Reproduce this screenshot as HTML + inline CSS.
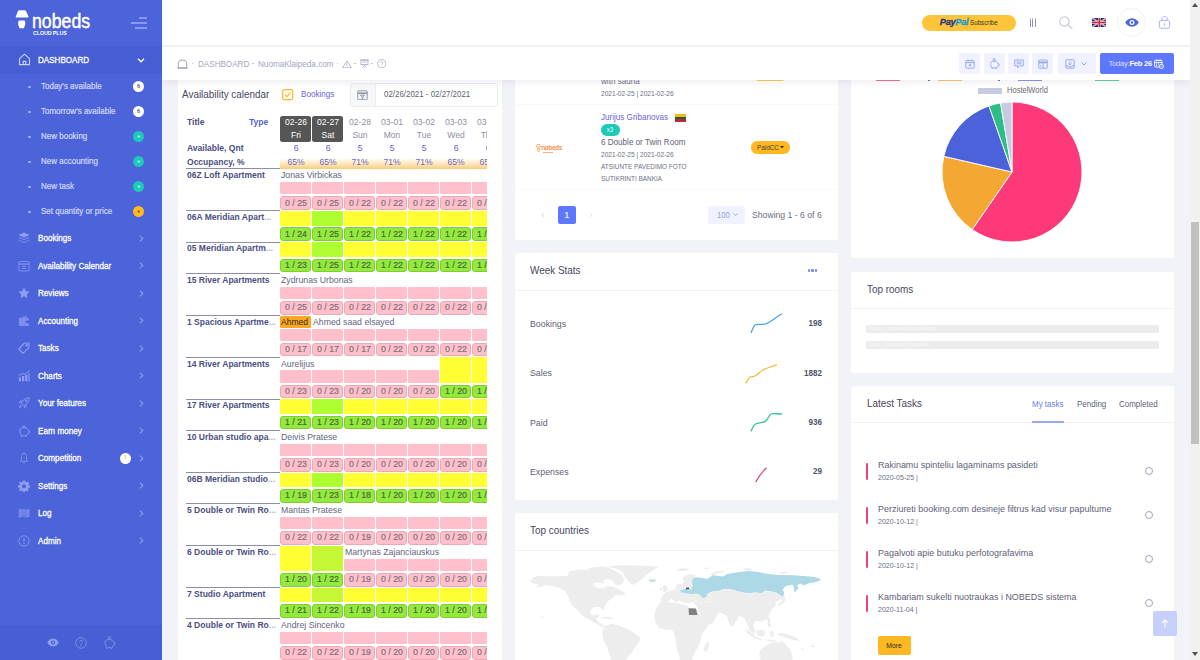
<!DOCTYPE html><html><head><meta charset="utf-8"><title>nobeds</title><style>
*{box-sizing:border-box;margin:0;padding:0}
html,body{width:1200px;height:660px;overflow:hidden;background:#f2f3f8;font-family:"Liberation Sans",sans-serif;}
body{position:relative}
.a{position:absolute}
.t{position:absolute;white-space:nowrap;line-height:1;}
.card{position:absolute;background:#fff;border-radius:3px;}
.hl{position:absolute;height:1px;background:#f2f3f8}
#side{position:absolute;left:0;top:0;width:162px;height:660px;background:#4c63d9;overflow:hidden}
#side .m{position:absolute;left:37px;color:#fff;font-size:9.3px;line-height:1;white-space:nowrap;letter-spacing:-0.3px;-webkit-text-stroke:0.25px #fff}
#side .s{position:absolute;left:41px;color:#c3cbf7;font-size:8.6px;line-height:1;white-space:nowrap;letter-spacing:-0.25px}
#side .dot{position:absolute;left:28.2px;width:2.4px;height:2.4px;border-radius:50%;background:#a3b0f2}
#side .arr{position:absolute;left:138px;width:6px;height:8px}
#side .bd{position:absolute;left:133px;width:11px;height:11px;border-radius:50%;}
#top{position:absolute;left:162px;top:0;width:1028px;height:46px;background:#fff;border-bottom:1px solid #f6f7fb}
#sub{position:absolute;left:162px;top:47px;width:1028px;height:33px;background:#fff;box-shadow:0 2px 7px rgba(82,63,105,.10)}
.btn{position:absolute;top:53px;height:21px;background:#f0f3ff;border-radius:2px}
#sb{position:absolute;left:1190px;top:0;width:10px;height:660px;background:#f1f1f1}
</style></head><body>
<div class="card" style="left:178px;top:70px;width:324px;height:600px"></div>
<div class="card" style="left:515px;top:70px;width:323px;height:170px"></div>
<div class="card" style="left:515px;top:253px;width:323px;height:247px"></div>
<div class="card" style="left:515px;top:513px;width:323px;height:160px"></div>
<div class="card" style="left:851px;top:70px;width:323px;height:188px"></div>
<div class="card" style="left:851px;top:272px;width:323px;height:101px"></div>
<div class="card" style="left:851px;top:386px;width:323px;height:290px"></div>
<span class="t" style="left:182px;top:88.66px;font-size:11.2px;color:#48465b;font-weight:normal;transform:scaleX(0.885);transform-origin:0 50%;">Availability calendar</span>
<svg class="a" style="left:282.4px;top:89.2px" width="11.4" height="11.4" viewBox="0 0 11.4 11.4" fill="none" stroke="#ffb822"><rect x="0.7" y="0.7" width="10" height="10" rx="1.6" stroke-width="1.2"/><path d="M2.9 5.8 L4.9 7.7 L8.5 3.7" stroke-width="1.2"/></svg>
<span class="t" style="left:301.4px;top:89.67px;font-size:9.3px;color:#6c63d8;font-weight:normal;transform:scaleX(0.87);transform-origin:0 50%;">Bookings</span>
<div class="a" style="left:349.5px;top:83px;width:148px;height:24px;border:1px solid #ebedf3;border-radius:3px;background:#fff"></div>
<div class="a" style="left:349.5px;top:83px;width:26.5px;height:24px;border:1px solid #ebedf3;border-radius:3px 0 0 3px;background:#f7f8fa"></div>
<svg class="a" style="left:357px;top:89.5px" width="11" height="10.5" viewBox="0 0 11 10.5" fill="none" stroke="#8b8da0" stroke-width=".9"><rect x="0.8" y="0.8" width="9.4" height="8.9" rx=".6"/><path d="M0.8 3.2 H10.2" stroke-width="1.5"/><path d="M3.4 5.2 H7.6 L5.8 7 V8.6 H5.2 V7 Z"/></svg>
<span class="t" style="left:384px;top:89.88px;font-size:9.1px;color:#5d5f6e;font-weight:normal;transform:scaleX(0.87);transform-origin:0 50%;">02/26/2021 - 02/27/2021</span>
<div class="a" style="left:180px;top:110px;width:307px;height:550px;overflow:hidden"><div class="a" style="left:-180px;top:-110px;width:700px;height:700px">
<span class="t" style="left:186.7px;top:116.81px;font-size:9.8px;color:#4b4f82;font-weight:bold;transform:scaleX(0.87);transform-origin:0 50%;">Title</span>
<span class="t" style="left:249.3px;top:116.81px;font-size:9.8px;color:#5b60d4;font-weight:bold;transform:scaleX(0.87);transform-origin:0 50%;">Type</span>
<div class="a" style="left:280px;top:158px;width:230px;height:10.6px;background:linear-gradient(to bottom,rgba(255,255,255,0) 0%,#fde6b8 55%,#f9cc7d 100%)"></div>
<div class="a" style="left:280px;top:115.6px;width:31px;height:26.6px;border-radius:2.5px;background:#565656"></div>
<span class="t" style="left:295.5px;top:117.01px;font-size:9.8px;color:#fff;font-weight:normal;transform:translateX(-50%) scaleX(0.87);">02-26</span>
<span class="t" style="left:295.5px;top:130.01px;font-size:9.8px;color:#fff;font-weight:normal;transform:translateX(-50%) scaleX(0.87);">Fri</span>
<span class="t" style="left:295.5px;top:143.21px;font-size:9.8px;color:#5b60d4;font-weight:normal;transform:translateX(-50%) scaleX(0.87);">6</span>
<span class="t" style="left:295.5px;top:156.61px;font-size:9.8px;color:#6a66c8;font-weight:normal;transform:translateX(-50%) scaleX(0.87);">65%</span>
<div class="a" style="left:312px;top:115.6px;width:31px;height:26.6px;border-radius:2.5px;background:#565656"></div>
<span class="t" style="left:327.5px;top:117.01px;font-size:9.8px;color:#fff;font-weight:normal;transform:translateX(-50%) scaleX(0.87);">02-27</span>
<span class="t" style="left:327.5px;top:130.01px;font-size:9.8px;color:#fff;font-weight:normal;transform:translateX(-50%) scaleX(0.87);">Sat</span>
<span class="t" style="left:327.5px;top:143.21px;font-size:9.8px;color:#5b60d4;font-weight:normal;transform:translateX(-50%) scaleX(0.87);">6</span>
<span class="t" style="left:327.5px;top:156.61px;font-size:9.8px;color:#6a66c8;font-weight:normal;transform:translateX(-50%) scaleX(0.87);">65%</span>
<span class="t" style="left:359.5px;top:117.01px;font-size:9.8px;color:#8d8fa3;font-weight:normal;transform:translateX(-50%) scaleX(0.87);">02-28</span>
<span class="t" style="left:359.5px;top:130.01px;font-size:9.8px;color:#8d8fa3;font-weight:normal;transform:translateX(-50%) scaleX(0.87);">Sun</span>
<span class="t" style="left:359.5px;top:143.21px;font-size:9.8px;color:#5b60d4;font-weight:normal;transform:translateX(-50%) scaleX(0.87);">5</span>
<span class="t" style="left:359.5px;top:156.61px;font-size:9.8px;color:#6a66c8;font-weight:normal;transform:translateX(-50%) scaleX(0.87);">71%</span>
<span class="t" style="left:391.5px;top:117.01px;font-size:9.8px;color:#8d8fa3;font-weight:normal;transform:translateX(-50%) scaleX(0.87);">03-01</span>
<span class="t" style="left:391.5px;top:130.01px;font-size:9.8px;color:#8d8fa3;font-weight:normal;transform:translateX(-50%) scaleX(0.87);">Mon</span>
<span class="t" style="left:391.5px;top:143.21px;font-size:9.8px;color:#5b60d4;font-weight:normal;transform:translateX(-50%) scaleX(0.87);">5</span>
<span class="t" style="left:391.5px;top:156.61px;font-size:9.8px;color:#6a66c8;font-weight:normal;transform:translateX(-50%) scaleX(0.87);">71%</span>
<span class="t" style="left:423.5px;top:117.01px;font-size:9.8px;color:#8d8fa3;font-weight:normal;transform:translateX(-50%) scaleX(0.87);">03-02</span>
<span class="t" style="left:423.5px;top:130.01px;font-size:9.8px;color:#8d8fa3;font-weight:normal;transform:translateX(-50%) scaleX(0.87);">Tue</span>
<span class="t" style="left:423.5px;top:143.21px;font-size:9.8px;color:#5b60d4;font-weight:normal;transform:translateX(-50%) scaleX(0.87);">5</span>
<span class="t" style="left:423.5px;top:156.61px;font-size:9.8px;color:#6a66c8;font-weight:normal;transform:translateX(-50%) scaleX(0.87);">71%</span>
<span class="t" style="left:455.5px;top:117.01px;font-size:9.8px;color:#8d8fa3;font-weight:normal;transform:translateX(-50%) scaleX(0.87);">03-03</span>
<span class="t" style="left:455.5px;top:130.01px;font-size:9.8px;color:#8d8fa3;font-weight:normal;transform:translateX(-50%) scaleX(0.87);">Wed</span>
<span class="t" style="left:455.5px;top:143.21px;font-size:9.8px;color:#5b60d4;font-weight:normal;transform:translateX(-50%) scaleX(0.87);">6</span>
<span class="t" style="left:455.5px;top:156.61px;font-size:9.8px;color:#6a66c8;font-weight:normal;transform:translateX(-50%) scaleX(0.87);">65%</span>
<span class="t" style="left:487.5px;top:117.01px;font-size:9.8px;color:#8d8fa3;font-weight:normal;transform:translateX(-50%) scaleX(0.87);">03-04</span>
<span class="t" style="left:487.5px;top:130.01px;font-size:9.8px;color:#8d8fa3;font-weight:normal;transform:translateX(-50%) scaleX(0.87);">Thu</span>
<span class="t" style="left:487.5px;top:143.21px;font-size:9.8px;color:#5b60d4;font-weight:normal;transform:translateX(-50%) scaleX(0.87);">6</span>
<span class="t" style="left:487.5px;top:156.61px;font-size:9.8px;color:#6a66c8;font-weight:normal;transform:translateX(-50%) scaleX(0.87);">65%</span>
<span class="t" style="left:186.7px;top:143.21px;font-size:9.8px;color:#4b4f82;font-weight:bold;transform:scaleX(0.87);transform-origin:0 50%;">Available, Qnt</span>
<span class="t" style="left:186.7px;top:156.61px;font-size:9.8px;color:#4b4f82;font-weight:bold;transform:scaleX(0.87);transform-origin:0 50%;">Occupancy, %</span>
<div class="a" style="left:186px;top:168.3px;width:94px;height:1px;background:#8b8eb0"></div>
<span class="t" style="left:186.7px;top:170.21px;font-size:9.8px;color:#4b4f82;font-weight:bold;transform:scaleX(0.87);transform-origin:0 50%;">06Z Loft Apartment</span>
<div class="a" style="left:280px;top:182.1px;width:31.2px;height:12.4px;border-radius:1px;background:#ffc0cb"></div>
<div class="a" style="left:280.3px;top:196.2px;width:30.6px;height:13.9px;border-radius:3px;background:#ffc0cb;border:1px solid #eaaab5"></div><span class="t" style="left:295.6px;top:198.67px;font-size:9.3px;color:#80707c;font-weight:normal;transform:translateX(-50%) scaleX(0.94);-webkit-text-stroke:0.2px #80707c;">0 / 25</span>
<div class="a" style="left:312px;top:182.1px;width:31.2px;height:12.4px;border-radius:1px;background:#ffc0cb"></div>
<div class="a" style="left:312.3px;top:196.2px;width:30.6px;height:13.9px;border-radius:3px;background:#ffc0cb;border:1px solid #eaaab5"></div><span class="t" style="left:327.6px;top:198.67px;font-size:9.3px;color:#80707c;font-weight:normal;transform:translateX(-50%) scaleX(0.94);-webkit-text-stroke:0.2px #80707c;">0 / 25</span>
<div class="a" style="left:344px;top:182.1px;width:31.2px;height:12.4px;border-radius:1px;background:#ffc0cb"></div>
<div class="a" style="left:344.3px;top:196.2px;width:30.6px;height:13.9px;border-radius:3px;background:#ffc0cb;border:1px solid #eaaab5"></div><span class="t" style="left:359.6px;top:198.67px;font-size:9.3px;color:#80707c;font-weight:normal;transform:translateX(-50%) scaleX(0.94);-webkit-text-stroke:0.2px #80707c;">0 / 22</span>
<div class="a" style="left:376px;top:182.1px;width:31.2px;height:12.4px;border-radius:1px;background:#ffc0cb"></div>
<div class="a" style="left:376.3px;top:196.2px;width:30.6px;height:13.9px;border-radius:3px;background:#ffc0cb;border:1px solid #eaaab5"></div><span class="t" style="left:391.6px;top:198.67px;font-size:9.3px;color:#80707c;font-weight:normal;transform:translateX(-50%) scaleX(0.94);-webkit-text-stroke:0.2px #80707c;">0 / 22</span>
<div class="a" style="left:408px;top:182.1px;width:31.2px;height:12.4px;border-radius:1px;background:#ffc0cb"></div>
<div class="a" style="left:408.3px;top:196.2px;width:30.6px;height:13.9px;border-radius:3px;background:#ffc0cb;border:1px solid #eaaab5"></div><span class="t" style="left:423.6px;top:198.67px;font-size:9.3px;color:#80707c;font-weight:normal;transform:translateX(-50%) scaleX(0.94);-webkit-text-stroke:0.2px #80707c;">0 / 22</span>
<div class="a" style="left:440px;top:182.1px;width:31.2px;height:12.4px;border-radius:1px;background:#ffc0cb"></div>
<div class="a" style="left:440.3px;top:196.2px;width:30.6px;height:13.9px;border-radius:3px;background:#ffc0cb;border:1px solid #eaaab5"></div><span class="t" style="left:455.6px;top:198.67px;font-size:9.3px;color:#80707c;font-weight:normal;transform:translateX(-50%) scaleX(0.94);-webkit-text-stroke:0.2px #80707c;">0 / 22</span>
<div class="a" style="left:472px;top:182.1px;width:31.2px;height:12.4px;border-radius:1px;background:#ffc0cb"></div>
<div class="a" style="left:472.3px;top:196.2px;width:30.6px;height:13.9px;border-radius:3px;background:#ffc0cb;border:1px solid #eaaab5"></div><span class="t" style="left:487.6px;top:198.67px;font-size:9.3px;color:#80707c;font-weight:normal;transform:translateX(-50%) scaleX(0.94);-webkit-text-stroke:0.2px #80707c;">0 / 22</span>
<span class="t" style="left:280.8px;top:170.31px;font-size:9.8px;color:#62657f;font-weight:normal;transform:scaleX(0.89);transform-origin:0 50%;">Jonas Virbickas</span>
<div class="a" style="left:186px;top:210.2px;width:94px;height:1px;background:#8b8eb0"></div>
<span class="t" style="left:186.7px;top:212.11px;font-size:9.8px;color:#4b4f82;font-weight:bold;transform:scaleX(0.87);transform-origin:0 50%;">06A Meridian Apart<span style="opacity:.45">...</span></span>
<div class="a" style="left:280px;top:211.0px;width:31.2px;height:14.8px;border-radius:1px;background:#ffff33"></div>
<div class="a" style="left:280.3px;top:227.3px;width:30.6px;height:13.9px;border-radius:3px;background:#94ea3c;border:1px solid #7ccf2d"></div><span class="t" style="left:295.6px;top:229.77px;font-size:9.3px;color:#47663a;font-weight:normal;transform:translateX(-50%) scaleX(0.94);-webkit-text-stroke:0.2px #47663a;">1 / 24</span>
<div class="a" style="left:312px;top:211.0px;width:31.2px;height:14.8px;border-radius:1px;background:#adff2f"></div>
<div class="a" style="left:312.3px;top:227.3px;width:30.6px;height:13.9px;border-radius:3px;background:#94ea3c;border:1px solid #7ccf2d"></div><span class="t" style="left:327.6px;top:229.77px;font-size:9.3px;color:#47663a;font-weight:normal;transform:translateX(-50%) scaleX(0.94);-webkit-text-stroke:0.2px #47663a;">1 / 25</span>
<div class="a" style="left:344px;top:211.0px;width:31.2px;height:14.8px;border-radius:1px;background:#ffff33"></div>
<div class="a" style="left:344.3px;top:227.3px;width:30.6px;height:13.9px;border-radius:3px;background:#94ea3c;border:1px solid #7ccf2d"></div><span class="t" style="left:359.6px;top:229.77px;font-size:9.3px;color:#47663a;font-weight:normal;transform:translateX(-50%) scaleX(0.94);-webkit-text-stroke:0.2px #47663a;">1 / 22</span>
<div class="a" style="left:376px;top:211.0px;width:31.2px;height:14.8px;border-radius:1px;background:#ffff33"></div>
<div class="a" style="left:376.3px;top:227.3px;width:30.6px;height:13.9px;border-radius:3px;background:#94ea3c;border:1px solid #7ccf2d"></div><span class="t" style="left:391.6px;top:229.77px;font-size:9.3px;color:#47663a;font-weight:normal;transform:translateX(-50%) scaleX(0.94);-webkit-text-stroke:0.2px #47663a;">1 / 22</span>
<div class="a" style="left:408px;top:211.0px;width:31.2px;height:14.8px;border-radius:1px;background:#ffff33"></div>
<div class="a" style="left:408.3px;top:227.3px;width:30.6px;height:13.9px;border-radius:3px;background:#94ea3c;border:1px solid #7ccf2d"></div><span class="t" style="left:423.6px;top:229.77px;font-size:9.3px;color:#47663a;font-weight:normal;transform:translateX(-50%) scaleX(0.94);-webkit-text-stroke:0.2px #47663a;">1 / 22</span>
<div class="a" style="left:440px;top:211.0px;width:31.2px;height:14.8px;border-radius:1px;background:#ffff33"></div>
<div class="a" style="left:440.3px;top:227.3px;width:30.6px;height:13.9px;border-radius:3px;background:#94ea3c;border:1px solid #7ccf2d"></div><span class="t" style="left:455.6px;top:229.77px;font-size:9.3px;color:#47663a;font-weight:normal;transform:translateX(-50%) scaleX(0.94);-webkit-text-stroke:0.2px #47663a;">1 / 22</span>
<div class="a" style="left:472px;top:211.0px;width:31.2px;height:14.8px;border-radius:1px;background:#ffff33"></div>
<div class="a" style="left:472.3px;top:227.3px;width:30.6px;height:13.9px;border-radius:3px;background:#94ea3c;border:1px solid #7ccf2d"></div><span class="t" style="left:487.6px;top:229.77px;font-size:9.3px;color:#47663a;font-weight:normal;transform:translateX(-50%) scaleX(0.94);-webkit-text-stroke:0.2px #47663a;">1 / 22</span>
<div class="a" style="left:186px;top:241.5px;width:94px;height:1px;background:#8b8eb0"></div>
<span class="t" style="left:186.7px;top:243.41px;font-size:9.8px;color:#4b4f82;font-weight:bold;transform:scaleX(0.87);transform-origin:0 50%;">05 Meridian Apartm<span style="opacity:.45">...</span></span>
<div class="a" style="left:280px;top:242.3px;width:31.2px;height:14.8px;border-radius:1px;background:#ffff33"></div>
<div class="a" style="left:280.3px;top:258.6px;width:30.6px;height:13.9px;border-radius:3px;background:#94ea3c;border:1px solid #7ccf2d"></div><span class="t" style="left:295.6px;top:261.07px;font-size:9.3px;color:#47663a;font-weight:normal;transform:translateX(-50%) scaleX(0.94);-webkit-text-stroke:0.2px #47663a;">1 / 23</span>
<div class="a" style="left:312px;top:242.3px;width:31.2px;height:14.8px;border-radius:1px;background:#adff2f"></div>
<div class="a" style="left:312.3px;top:258.6px;width:30.6px;height:13.9px;border-radius:3px;background:#94ea3c;border:1px solid #7ccf2d"></div><span class="t" style="left:327.6px;top:261.07px;font-size:9.3px;color:#47663a;font-weight:normal;transform:translateX(-50%) scaleX(0.94);-webkit-text-stroke:0.2px #47663a;">1 / 25</span>
<div class="a" style="left:344px;top:242.3px;width:31.2px;height:14.8px;border-radius:1px;background:#ffff33"></div>
<div class="a" style="left:344.3px;top:258.6px;width:30.6px;height:13.9px;border-radius:3px;background:#94ea3c;border:1px solid #7ccf2d"></div><span class="t" style="left:359.6px;top:261.07px;font-size:9.3px;color:#47663a;font-weight:normal;transform:translateX(-50%) scaleX(0.94);-webkit-text-stroke:0.2px #47663a;">1 / 22</span>
<div class="a" style="left:376px;top:242.3px;width:31.2px;height:14.8px;border-radius:1px;background:#ffff33"></div>
<div class="a" style="left:376.3px;top:258.6px;width:30.6px;height:13.9px;border-radius:3px;background:#94ea3c;border:1px solid #7ccf2d"></div><span class="t" style="left:391.6px;top:261.07px;font-size:9.3px;color:#47663a;font-weight:normal;transform:translateX(-50%) scaleX(0.94);-webkit-text-stroke:0.2px #47663a;">1 / 22</span>
<div class="a" style="left:408px;top:242.3px;width:31.2px;height:14.8px;border-radius:1px;background:#ffff33"></div>
<div class="a" style="left:408.3px;top:258.6px;width:30.6px;height:13.9px;border-radius:3px;background:#94ea3c;border:1px solid #7ccf2d"></div><span class="t" style="left:423.6px;top:261.07px;font-size:9.3px;color:#47663a;font-weight:normal;transform:translateX(-50%) scaleX(0.94);-webkit-text-stroke:0.2px #47663a;">1 / 22</span>
<div class="a" style="left:440px;top:242.3px;width:31.2px;height:14.8px;border-radius:1px;background:#ffff33"></div>
<div class="a" style="left:440.3px;top:258.6px;width:30.6px;height:13.9px;border-radius:3px;background:#94ea3c;border:1px solid #7ccf2d"></div><span class="t" style="left:455.6px;top:261.07px;font-size:9.3px;color:#47663a;font-weight:normal;transform:translateX(-50%) scaleX(0.94);-webkit-text-stroke:0.2px #47663a;">1 / 22</span>
<div class="a" style="left:472px;top:242.3px;width:31.2px;height:14.8px;border-radius:1px;background:#ffff33"></div>
<div class="a" style="left:472.3px;top:258.6px;width:30.6px;height:13.9px;border-radius:3px;background:#94ea3c;border:1px solid #7ccf2d"></div><span class="t" style="left:487.6px;top:261.07px;font-size:9.3px;color:#47663a;font-weight:normal;transform:translateX(-50%) scaleX(0.94);-webkit-text-stroke:0.2px #47663a;">1 / 22</span>
<div class="a" style="left:186px;top:272.8px;width:94px;height:1px;background:#8b8eb0"></div>
<span class="t" style="left:186.7px;top:274.71px;font-size:9.8px;color:#4b4f82;font-weight:bold;transform:scaleX(0.87);transform-origin:0 50%;">15 River Apartments</span>
<div class="a" style="left:280px;top:286.6px;width:31.2px;height:12.4px;border-radius:1px;background:#ffc0cb"></div>
<div class="a" style="left:280.3px;top:300.7px;width:30.6px;height:13.9px;border-radius:3px;background:#ffc0cb;border:1px solid #eaaab5"></div><span class="t" style="left:295.6px;top:303.17px;font-size:9.3px;color:#80707c;font-weight:normal;transform:translateX(-50%) scaleX(0.94);-webkit-text-stroke:0.2px #80707c;">0 / 25</span>
<div class="a" style="left:312px;top:286.6px;width:31.2px;height:12.4px;border-radius:1px;background:#ffc0cb"></div>
<div class="a" style="left:312.3px;top:300.7px;width:30.6px;height:13.9px;border-radius:3px;background:#ffc0cb;border:1px solid #eaaab5"></div><span class="t" style="left:327.6px;top:303.17px;font-size:9.3px;color:#80707c;font-weight:normal;transform:translateX(-50%) scaleX(0.94);-webkit-text-stroke:0.2px #80707c;">0 / 25</span>
<div class="a" style="left:344px;top:286.6px;width:31.2px;height:12.4px;border-radius:1px;background:#ffc0cb"></div>
<div class="a" style="left:344.3px;top:300.7px;width:30.6px;height:13.9px;border-radius:3px;background:#ffc0cb;border:1px solid #eaaab5"></div><span class="t" style="left:359.6px;top:303.17px;font-size:9.3px;color:#80707c;font-weight:normal;transform:translateX(-50%) scaleX(0.94);-webkit-text-stroke:0.2px #80707c;">0 / 22</span>
<div class="a" style="left:376px;top:286.6px;width:31.2px;height:12.4px;border-radius:1px;background:#ffc0cb"></div>
<div class="a" style="left:376.3px;top:300.7px;width:30.6px;height:13.9px;border-radius:3px;background:#ffc0cb;border:1px solid #eaaab5"></div><span class="t" style="left:391.6px;top:303.17px;font-size:9.3px;color:#80707c;font-weight:normal;transform:translateX(-50%) scaleX(0.94);-webkit-text-stroke:0.2px #80707c;">0 / 22</span>
<div class="a" style="left:408px;top:286.6px;width:31.2px;height:12.4px;border-radius:1px;background:#ffc0cb"></div>
<div class="a" style="left:408.3px;top:300.7px;width:30.6px;height:13.9px;border-radius:3px;background:#ffc0cb;border:1px solid #eaaab5"></div><span class="t" style="left:423.6px;top:303.17px;font-size:9.3px;color:#80707c;font-weight:normal;transform:translateX(-50%) scaleX(0.94);-webkit-text-stroke:0.2px #80707c;">0 / 22</span>
<div class="a" style="left:440px;top:286.6px;width:31.2px;height:12.4px;border-radius:1px;background:#ffc0cb"></div>
<div class="a" style="left:440.3px;top:300.7px;width:30.6px;height:13.9px;border-radius:3px;background:#ffc0cb;border:1px solid #eaaab5"></div><span class="t" style="left:455.6px;top:303.17px;font-size:9.3px;color:#80707c;font-weight:normal;transform:translateX(-50%) scaleX(0.94);-webkit-text-stroke:0.2px #80707c;">0 / 22</span>
<div class="a" style="left:472px;top:286.6px;width:31.2px;height:12.4px;border-radius:1px;background:#ffc0cb"></div>
<div class="a" style="left:472.3px;top:300.7px;width:30.6px;height:13.9px;border-radius:3px;background:#ffc0cb;border:1px solid #eaaab5"></div><span class="t" style="left:487.6px;top:303.17px;font-size:9.3px;color:#80707c;font-weight:normal;transform:translateX(-50%) scaleX(0.94);-webkit-text-stroke:0.2px #80707c;">0 / 22</span>
<span class="t" style="left:280.8px;top:274.81px;font-size:9.8px;color:#62657f;font-weight:normal;transform:scaleX(0.89);transform-origin:0 50%;">Zydrunas Urbonas</span>
<div class="a" style="left:186px;top:314.7px;width:94px;height:1px;background:#8b8eb0"></div>
<span class="t" style="left:186.7px;top:316.61px;font-size:9.8px;color:#4b4f82;font-weight:bold;transform:scaleX(0.87);transform-origin:0 50%;">1 Spacious Apartme<span style="opacity:.45">...</span></span>
<div class="a" style="left:280px;top:328.5px;width:31.2px;height:12.4px;border-radius:1px;background:#ffc0cb"></div>
<div class="a" style="left:280.3px;top:342.6px;width:30.6px;height:13.9px;border-radius:3px;background:#ffc0cb;border:1px solid #eaaab5"></div><span class="t" style="left:295.6px;top:345.07px;font-size:9.3px;color:#80707c;font-weight:normal;transform:translateX(-50%) scaleX(0.94);-webkit-text-stroke:0.2px #80707c;">0 / 17</span>
<div class="a" style="left:312px;top:328.5px;width:31.2px;height:12.4px;border-radius:1px;background:#ffc0cb"></div>
<div class="a" style="left:312.3px;top:342.6px;width:30.6px;height:13.9px;border-radius:3px;background:#ffc0cb;border:1px solid #eaaab5"></div><span class="t" style="left:327.6px;top:345.07px;font-size:9.3px;color:#80707c;font-weight:normal;transform:translateX(-50%) scaleX(0.94);-webkit-text-stroke:0.2px #80707c;">0 / 17</span>
<div class="a" style="left:344px;top:328.5px;width:31.2px;height:12.4px;border-radius:1px;background:#ffc0cb"></div>
<div class="a" style="left:344.3px;top:342.6px;width:30.6px;height:13.9px;border-radius:3px;background:#ffc0cb;border:1px solid #eaaab5"></div><span class="t" style="left:359.6px;top:345.07px;font-size:9.3px;color:#80707c;font-weight:normal;transform:translateX(-50%) scaleX(0.94);-webkit-text-stroke:0.2px #80707c;">0 / 17</span>
<div class="a" style="left:376px;top:328.5px;width:31.2px;height:12.4px;border-radius:1px;background:#ffc0cb"></div>
<div class="a" style="left:376.3px;top:342.6px;width:30.6px;height:13.9px;border-radius:3px;background:#ffc0cb;border:1px solid #eaaab5"></div><span class="t" style="left:391.6px;top:345.07px;font-size:9.3px;color:#80707c;font-weight:normal;transform:translateX(-50%) scaleX(0.94);-webkit-text-stroke:0.2px #80707c;">0 / 22</span>
<div class="a" style="left:408px;top:328.5px;width:31.2px;height:12.4px;border-radius:1px;background:#ffc0cb"></div>
<div class="a" style="left:408.3px;top:342.6px;width:30.6px;height:13.9px;border-radius:3px;background:#ffc0cb;border:1px solid #eaaab5"></div><span class="t" style="left:423.6px;top:345.07px;font-size:9.3px;color:#80707c;font-weight:normal;transform:translateX(-50%) scaleX(0.94);-webkit-text-stroke:0.2px #80707c;">0 / 22</span>
<div class="a" style="left:440px;top:328.5px;width:31.2px;height:12.4px;border-radius:1px;background:#ffc0cb"></div>
<div class="a" style="left:440.3px;top:342.6px;width:30.6px;height:13.9px;border-radius:3px;background:#ffc0cb;border:1px solid #eaaab5"></div><span class="t" style="left:455.6px;top:345.07px;font-size:9.3px;color:#80707c;font-weight:normal;transform:translateX(-50%) scaleX(0.94);-webkit-text-stroke:0.2px #80707c;">0 / 22</span>
<div class="a" style="left:472px;top:328.5px;width:31.2px;height:12.4px;border-radius:1px;background:#ffc0cb"></div>
<div class="a" style="left:472.3px;top:342.6px;width:30.6px;height:13.9px;border-radius:3px;background:#ffc0cb;border:1px solid #eaaab5"></div><span class="t" style="left:487.6px;top:345.07px;font-size:9.3px;color:#80707c;font-weight:normal;transform:translateX(-50%) scaleX(0.94);-webkit-text-stroke:0.2px #80707c;">0 / 22</span>
<div class="a" style="left:280px;top:315.5px;width:31.4px;height:12.6px;background:#f9a825;border-radius:1px"></div>
<span class="t" style="left:280.8px;top:316.71px;font-size:9.8px;color:#3a2c10;font-weight:normal;transform:scaleX(0.87);transform-origin:0 50%;">Ahmed</span>
<span class="t" style="left:312.8px;top:316.71px;font-size:9.8px;color:#62657f;font-weight:normal;transform:scaleX(0.89);transform-origin:0 50%;">Ahmed saad elsayed</span>
<div class="a" style="left:186px;top:356.6px;width:94px;height:1px;background:#8b8eb0"></div>
<span class="t" style="left:186.7px;top:358.51px;font-size:9.8px;color:#4b4f82;font-weight:bold;transform:scaleX(0.87);transform-origin:0 50%;">14 River Apartments</span>
<div class="a" style="left:280px;top:370.4px;width:31.2px;height:12.4px;border-radius:1px;background:#ffc0cb"></div>
<div class="a" style="left:280.3px;top:384.5px;width:30.6px;height:13.9px;border-radius:3px;background:#ffc0cb;border:1px solid #eaaab5"></div><span class="t" style="left:295.6px;top:386.97px;font-size:9.3px;color:#80707c;font-weight:normal;transform:translateX(-50%) scaleX(0.94);-webkit-text-stroke:0.2px #80707c;">0 / 23</span>
<div class="a" style="left:312px;top:370.4px;width:31.2px;height:12.4px;border-radius:1px;background:#ffc0cb"></div>
<div class="a" style="left:312.3px;top:384.5px;width:30.6px;height:13.9px;border-radius:3px;background:#ffc0cb;border:1px solid #eaaab5"></div><span class="t" style="left:327.6px;top:386.97px;font-size:9.3px;color:#80707c;font-weight:normal;transform:translateX(-50%) scaleX(0.94);-webkit-text-stroke:0.2px #80707c;">0 / 23</span>
<div class="a" style="left:344px;top:370.4px;width:31.2px;height:12.4px;border-radius:1px;background:#ffc0cb"></div>
<div class="a" style="left:344.3px;top:384.5px;width:30.6px;height:13.9px;border-radius:3px;background:#ffc0cb;border:1px solid #eaaab5"></div><span class="t" style="left:359.6px;top:386.97px;font-size:9.3px;color:#80707c;font-weight:normal;transform:translateX(-50%) scaleX(0.94);-webkit-text-stroke:0.2px #80707c;">0 / 20</span>
<div class="a" style="left:376px;top:370.4px;width:31.2px;height:12.4px;border-radius:1px;background:#ffc0cb"></div>
<div class="a" style="left:376.3px;top:384.5px;width:30.6px;height:13.9px;border-radius:3px;background:#ffc0cb;border:1px solid #eaaab5"></div><span class="t" style="left:391.6px;top:386.97px;font-size:9.3px;color:#80707c;font-weight:normal;transform:translateX(-50%) scaleX(0.94);-webkit-text-stroke:0.2px #80707c;">0 / 20</span>
<div class="a" style="left:408px;top:370.4px;width:31.2px;height:12.4px;border-radius:1px;background:#ffc0cb"></div>
<div class="a" style="left:408.3px;top:384.5px;width:30.6px;height:13.9px;border-radius:3px;background:#ffc0cb;border:1px solid #eaaab5"></div><span class="t" style="left:423.6px;top:386.97px;font-size:9.3px;color:#80707c;font-weight:normal;transform:translateX(-50%) scaleX(0.94);-webkit-text-stroke:0.2px #80707c;">0 / 20</span>
<div class="a" style="left:440px;top:357.4px;width:31.4px;height:25.4px;background:#ffff33"></div>
<div class="a" style="left:440.3px;top:384.5px;width:30.6px;height:13.9px;border-radius:3px;background:#94ea3c;border:1px solid #7ccf2d"></div><span class="t" style="left:455.6px;top:386.97px;font-size:9.3px;color:#47663a;font-weight:normal;transform:translateX(-50%) scaleX(0.94);-webkit-text-stroke:0.2px #47663a;">1 / 20</span>
<div class="a" style="left:472px;top:357.4px;width:31.4px;height:25.4px;background:#ffff33"></div>
<div class="a" style="left:472.3px;top:384.5px;width:30.6px;height:13.9px;border-radius:3px;background:#94ea3c;border:1px solid #7ccf2d"></div><span class="t" style="left:487.6px;top:386.97px;font-size:9.3px;color:#47663a;font-weight:normal;transform:translateX(-50%) scaleX(0.94);-webkit-text-stroke:0.2px #47663a;">1 / 20</span>
<span class="t" style="left:280.8px;top:358.61px;font-size:9.8px;color:#62657f;font-weight:normal;transform:scaleX(0.89);transform-origin:0 50%;">Aurelijus</span>
<div class="a" style="left:186px;top:398.5px;width:94px;height:1px;background:#8b8eb0"></div>
<span class="t" style="left:186.7px;top:400.41px;font-size:9.8px;color:#4b4f82;font-weight:bold;transform:scaleX(0.87);transform-origin:0 50%;">17 River Apartments</span>
<div class="a" style="left:280px;top:399.3px;width:31.2px;height:14.8px;border-radius:1px;background:#ffff33"></div>
<div class="a" style="left:280.3px;top:415.6px;width:30.6px;height:13.9px;border-radius:3px;background:#94ea3c;border:1px solid #7ccf2d"></div><span class="t" style="left:295.6px;top:418.07px;font-size:9.3px;color:#47663a;font-weight:normal;transform:translateX(-50%) scaleX(0.94);-webkit-text-stroke:0.2px #47663a;">1 / 21</span>
<div class="a" style="left:312px;top:399.3px;width:31.2px;height:14.8px;border-radius:1px;background:#adff2f"></div>
<div class="a" style="left:312.3px;top:415.6px;width:30.6px;height:13.9px;border-radius:3px;background:#94ea3c;border:1px solid #7ccf2d"></div><span class="t" style="left:327.6px;top:418.07px;font-size:9.3px;color:#47663a;font-weight:normal;transform:translateX(-50%) scaleX(0.94);-webkit-text-stroke:0.2px #47663a;">1 / 23</span>
<div class="a" style="left:344px;top:399.3px;width:31.2px;height:14.8px;border-radius:1px;background:#ffff33"></div>
<div class="a" style="left:344.3px;top:415.6px;width:30.6px;height:13.9px;border-radius:3px;background:#94ea3c;border:1px solid #7ccf2d"></div><span class="t" style="left:359.6px;top:418.07px;font-size:9.3px;color:#47663a;font-weight:normal;transform:translateX(-50%) scaleX(0.94);-webkit-text-stroke:0.2px #47663a;">1 / 20</span>
<div class="a" style="left:376px;top:399.3px;width:31.2px;height:14.8px;border-radius:1px;background:#ffff33"></div>
<div class="a" style="left:376.3px;top:415.6px;width:30.6px;height:13.9px;border-radius:3px;background:#94ea3c;border:1px solid #7ccf2d"></div><span class="t" style="left:391.6px;top:418.07px;font-size:9.3px;color:#47663a;font-weight:normal;transform:translateX(-50%) scaleX(0.94);-webkit-text-stroke:0.2px #47663a;">1 / 20</span>
<div class="a" style="left:408px;top:399.3px;width:31.2px;height:14.8px;border-radius:1px;background:#ffff33"></div>
<div class="a" style="left:408.3px;top:415.6px;width:30.6px;height:13.9px;border-radius:3px;background:#94ea3c;border:1px solid #7ccf2d"></div><span class="t" style="left:423.6px;top:418.07px;font-size:9.3px;color:#47663a;font-weight:normal;transform:translateX(-50%) scaleX(0.94);-webkit-text-stroke:0.2px #47663a;">1 / 20</span>
<div class="a" style="left:440px;top:399.3px;width:31.2px;height:14.8px;border-radius:1px;background:#ffff33"></div>
<div class="a" style="left:440.3px;top:415.6px;width:30.6px;height:13.9px;border-radius:3px;background:#94ea3c;border:1px solid #7ccf2d"></div><span class="t" style="left:455.6px;top:418.07px;font-size:9.3px;color:#47663a;font-weight:normal;transform:translateX(-50%) scaleX(0.94);-webkit-text-stroke:0.2px #47663a;">1 / 20</span>
<div class="a" style="left:472px;top:399.3px;width:31.2px;height:14.8px;border-radius:1px;background:#ffff33"></div>
<div class="a" style="left:472.3px;top:415.6px;width:30.6px;height:13.9px;border-radius:3px;background:#94ea3c;border:1px solid #7ccf2d"></div><span class="t" style="left:487.6px;top:418.07px;font-size:9.3px;color:#47663a;font-weight:normal;transform:translateX(-50%) scaleX(0.94);-webkit-text-stroke:0.2px #47663a;">1 / 20</span>
<div class="a" style="left:186px;top:429.8px;width:94px;height:1px;background:#8b8eb0"></div>
<span class="t" style="left:186.7px;top:431.71px;font-size:9.8px;color:#4b4f82;font-weight:bold;transform:scaleX(0.87);transform-origin:0 50%;">10 Urban studio apa<span style="opacity:.45">...</span></span>
<div class="a" style="left:280px;top:443.6px;width:31.2px;height:12.4px;border-radius:1px;background:#ffc0cb"></div>
<div class="a" style="left:280.3px;top:457.7px;width:30.6px;height:13.9px;border-radius:3px;background:#ffc0cb;border:1px solid #eaaab5"></div><span class="t" style="left:295.6px;top:460.17px;font-size:9.3px;color:#80707c;font-weight:normal;transform:translateX(-50%) scaleX(0.94);-webkit-text-stroke:0.2px #80707c;">0 / 23</span>
<div class="a" style="left:312px;top:443.6px;width:31.2px;height:12.4px;border-radius:1px;background:#ffc0cb"></div>
<div class="a" style="left:312.3px;top:457.7px;width:30.6px;height:13.9px;border-radius:3px;background:#ffc0cb;border:1px solid #eaaab5"></div><span class="t" style="left:327.6px;top:460.17px;font-size:9.3px;color:#80707c;font-weight:normal;transform:translateX(-50%) scaleX(0.94);-webkit-text-stroke:0.2px #80707c;">0 / 23</span>
<div class="a" style="left:344px;top:443.6px;width:31.2px;height:12.4px;border-radius:1px;background:#ffc0cb"></div>
<div class="a" style="left:344.3px;top:457.7px;width:30.6px;height:13.9px;border-radius:3px;background:#ffc0cb;border:1px solid #eaaab5"></div><span class="t" style="left:359.6px;top:460.17px;font-size:9.3px;color:#80707c;font-weight:normal;transform:translateX(-50%) scaleX(0.94);-webkit-text-stroke:0.2px #80707c;">0 / 20</span>
<div class="a" style="left:376px;top:443.6px;width:31.2px;height:12.4px;border-radius:1px;background:#ffc0cb"></div>
<div class="a" style="left:376.3px;top:457.7px;width:30.6px;height:13.9px;border-radius:3px;background:#ffc0cb;border:1px solid #eaaab5"></div><span class="t" style="left:391.6px;top:460.17px;font-size:9.3px;color:#80707c;font-weight:normal;transform:translateX(-50%) scaleX(0.94);-webkit-text-stroke:0.2px #80707c;">0 / 20</span>
<div class="a" style="left:408px;top:443.6px;width:31.2px;height:12.4px;border-radius:1px;background:#ffc0cb"></div>
<div class="a" style="left:408.3px;top:457.7px;width:30.6px;height:13.9px;border-radius:3px;background:#ffc0cb;border:1px solid #eaaab5"></div><span class="t" style="left:423.6px;top:460.17px;font-size:9.3px;color:#80707c;font-weight:normal;transform:translateX(-50%) scaleX(0.94);-webkit-text-stroke:0.2px #80707c;">0 / 20</span>
<div class="a" style="left:440px;top:443.6px;width:31.2px;height:12.4px;border-radius:1px;background:#ffc0cb"></div>
<div class="a" style="left:440.3px;top:457.7px;width:30.6px;height:13.9px;border-radius:3px;background:#ffc0cb;border:1px solid #eaaab5"></div><span class="t" style="left:455.6px;top:460.17px;font-size:9.3px;color:#80707c;font-weight:normal;transform:translateX(-50%) scaleX(0.94);-webkit-text-stroke:0.2px #80707c;">0 / 20</span>
<div class="a" style="left:472px;top:443.6px;width:31.2px;height:12.4px;border-radius:1px;background:#ffc0cb"></div>
<div class="a" style="left:472.3px;top:457.7px;width:30.6px;height:13.9px;border-radius:3px;background:#ffc0cb;border:1px solid #eaaab5"></div><span class="t" style="left:487.6px;top:460.17px;font-size:9.3px;color:#80707c;font-weight:normal;transform:translateX(-50%) scaleX(0.94);-webkit-text-stroke:0.2px #80707c;">0 / 20</span>
<span class="t" style="left:280.8px;top:431.81px;font-size:9.8px;color:#62657f;font-weight:normal;transform:scaleX(0.89);transform-origin:0 50%;">Deivis Pratese</span>
<div class="a" style="left:186px;top:471.7px;width:94px;height:1px;background:#8b8eb0"></div>
<span class="t" style="left:186.7px;top:473.61px;font-size:9.8px;color:#4b4f82;font-weight:bold;transform:scaleX(0.87);transform-origin:0 50%;">06B Meridian studio<span style="opacity:.45">...</span></span>
<div class="a" style="left:280px;top:472.5px;width:31.2px;height:14.8px;border-radius:1px;background:#ffff33"></div>
<div class="a" style="left:280.3px;top:488.8px;width:30.6px;height:13.9px;border-radius:3px;background:#94ea3c;border:1px solid #7ccf2d"></div><span class="t" style="left:295.6px;top:491.27px;font-size:9.3px;color:#47663a;font-weight:normal;transform:translateX(-50%) scaleX(0.94);-webkit-text-stroke:0.2px #47663a;">1 / 19</span>
<div class="a" style="left:312px;top:472.5px;width:31.2px;height:14.8px;border-radius:1px;background:#adff2f"></div>
<div class="a" style="left:312.3px;top:488.8px;width:30.6px;height:13.9px;border-radius:3px;background:#94ea3c;border:1px solid #7ccf2d"></div><span class="t" style="left:327.6px;top:491.27px;font-size:9.3px;color:#47663a;font-weight:normal;transform:translateX(-50%) scaleX(0.94);-webkit-text-stroke:0.2px #47663a;">1 / 23</span>
<div class="a" style="left:344px;top:472.5px;width:31.2px;height:14.8px;border-radius:1px;background:#ffff33"></div>
<div class="a" style="left:344.3px;top:488.8px;width:30.6px;height:13.9px;border-radius:3px;background:#94ea3c;border:1px solid #7ccf2d"></div><span class="t" style="left:359.6px;top:491.27px;font-size:9.3px;color:#47663a;font-weight:normal;transform:translateX(-50%) scaleX(0.94);-webkit-text-stroke:0.2px #47663a;">1 / 18</span>
<div class="a" style="left:376px;top:472.5px;width:31.2px;height:14.8px;border-radius:1px;background:#ffff33"></div>
<div class="a" style="left:376.3px;top:488.8px;width:30.6px;height:13.9px;border-radius:3px;background:#94ea3c;border:1px solid #7ccf2d"></div><span class="t" style="left:391.6px;top:491.27px;font-size:9.3px;color:#47663a;font-weight:normal;transform:translateX(-50%) scaleX(0.94);-webkit-text-stroke:0.2px #47663a;">1 / 20</span>
<div class="a" style="left:408px;top:472.5px;width:31.2px;height:14.8px;border-radius:1px;background:#ffff33"></div>
<div class="a" style="left:408.3px;top:488.8px;width:30.6px;height:13.9px;border-radius:3px;background:#94ea3c;border:1px solid #7ccf2d"></div><span class="t" style="left:423.6px;top:491.27px;font-size:9.3px;color:#47663a;font-weight:normal;transform:translateX(-50%) scaleX(0.94);-webkit-text-stroke:0.2px #47663a;">1 / 20</span>
<div class="a" style="left:440px;top:472.5px;width:31.2px;height:14.8px;border-radius:1px;background:#ffff33"></div>
<div class="a" style="left:440.3px;top:488.8px;width:30.6px;height:13.9px;border-radius:3px;background:#94ea3c;border:1px solid #7ccf2d"></div><span class="t" style="left:455.6px;top:491.27px;font-size:9.3px;color:#47663a;font-weight:normal;transform:translateX(-50%) scaleX(0.94);-webkit-text-stroke:0.2px #47663a;">1 / 20</span>
<div class="a" style="left:472px;top:472.5px;width:31.2px;height:14.8px;border-radius:1px;background:#ffff33"></div>
<div class="a" style="left:472.3px;top:488.8px;width:30.6px;height:13.9px;border-radius:3px;background:#94ea3c;border:1px solid #7ccf2d"></div><span class="t" style="left:487.6px;top:491.27px;font-size:9.3px;color:#47663a;font-weight:normal;transform:translateX(-50%) scaleX(0.94);-webkit-text-stroke:0.2px #47663a;">1 / 20</span>
<div class="a" style="left:186px;top:503.0px;width:94px;height:1px;background:#8b8eb0"></div>
<span class="t" style="left:186.7px;top:504.91px;font-size:9.8px;color:#4b4f82;font-weight:bold;transform:scaleX(0.87);transform-origin:0 50%;">5 Double or Twin Ro<span style="opacity:.45">...</span></span>
<div class="a" style="left:280px;top:516.8px;width:31.2px;height:12.4px;border-radius:1px;background:#ffc0cb"></div>
<div class="a" style="left:280.3px;top:530.9px;width:30.6px;height:13.9px;border-radius:3px;background:#ffc0cb;border:1px solid #eaaab5"></div><span class="t" style="left:295.6px;top:533.37px;font-size:9.3px;color:#80707c;font-weight:normal;transform:translateX(-50%) scaleX(0.94);-webkit-text-stroke:0.2px #80707c;">0 / 22</span>
<div class="a" style="left:312px;top:516.8px;width:31.2px;height:12.4px;border-radius:1px;background:#ffc0cb"></div>
<div class="a" style="left:312.3px;top:530.9px;width:30.6px;height:13.9px;border-radius:3px;background:#ffc0cb;border:1px solid #eaaab5"></div><span class="t" style="left:327.6px;top:533.37px;font-size:9.3px;color:#80707c;font-weight:normal;transform:translateX(-50%) scaleX(0.94);-webkit-text-stroke:0.2px #80707c;">0 / 22</span>
<div class="a" style="left:344px;top:516.8px;width:31.2px;height:12.4px;border-radius:1px;background:#ffc0cb"></div>
<div class="a" style="left:344.3px;top:530.9px;width:30.6px;height:13.9px;border-radius:3px;background:#ffc0cb;border:1px solid #eaaab5"></div><span class="t" style="left:359.6px;top:533.37px;font-size:9.3px;color:#80707c;font-weight:normal;transform:translateX(-50%) scaleX(0.94);-webkit-text-stroke:0.2px #80707c;">0 / 19</span>
<div class="a" style="left:376px;top:516.8px;width:31.2px;height:12.4px;border-radius:1px;background:#ffc0cb"></div>
<div class="a" style="left:376.3px;top:530.9px;width:30.6px;height:13.9px;border-radius:3px;background:#ffc0cb;border:1px solid #eaaab5"></div><span class="t" style="left:391.6px;top:533.37px;font-size:9.3px;color:#80707c;font-weight:normal;transform:translateX(-50%) scaleX(0.94);-webkit-text-stroke:0.2px #80707c;">0 / 20</span>
<div class="a" style="left:408px;top:516.8px;width:31.2px;height:12.4px;border-radius:1px;background:#ffc0cb"></div>
<div class="a" style="left:408.3px;top:530.9px;width:30.6px;height:13.9px;border-radius:3px;background:#ffc0cb;border:1px solid #eaaab5"></div><span class="t" style="left:423.6px;top:533.37px;font-size:9.3px;color:#80707c;font-weight:normal;transform:translateX(-50%) scaleX(0.94);-webkit-text-stroke:0.2px #80707c;">0 / 20</span>
<div class="a" style="left:440px;top:516.8px;width:31.2px;height:12.4px;border-radius:1px;background:#ffc0cb"></div>
<div class="a" style="left:440.3px;top:530.9px;width:30.6px;height:13.9px;border-radius:3px;background:#ffc0cb;border:1px solid #eaaab5"></div><span class="t" style="left:455.6px;top:533.37px;font-size:9.3px;color:#80707c;font-weight:normal;transform:translateX(-50%) scaleX(0.94);-webkit-text-stroke:0.2px #80707c;">0 / 20</span>
<div class="a" style="left:472px;top:516.8px;width:31.2px;height:12.4px;border-radius:1px;background:#ffc0cb"></div>
<div class="a" style="left:472.3px;top:530.9px;width:30.6px;height:13.9px;border-radius:3px;background:#ffc0cb;border:1px solid #eaaab5"></div><span class="t" style="left:487.6px;top:533.37px;font-size:9.3px;color:#80707c;font-weight:normal;transform:translateX(-50%) scaleX(0.94);-webkit-text-stroke:0.2px #80707c;">0 / 20</span>
<span class="t" style="left:280.8px;top:505.01px;font-size:9.8px;color:#62657f;font-weight:normal;transform:scaleX(0.89);transform-origin:0 50%;">Mantas Pratese</span>
<div class="a" style="left:186px;top:544.9px;width:94px;height:1px;background:#8b8eb0"></div>
<span class="t" style="left:186.7px;top:546.81px;font-size:9.8px;color:#4b4f82;font-weight:bold;transform:scaleX(0.87);transform-origin:0 50%;">6 Double or Twin Ro<span style="opacity:.45">...</span></span>
<div class="a" style="left:280px;top:545.7px;width:31.4px;height:25.4px;background:#ffff33"></div>
<div class="a" style="left:280.3px;top:572.8px;width:30.6px;height:13.9px;border-radius:3px;background:#94ea3c;border:1px solid #7ccf2d"></div><span class="t" style="left:295.6px;top:575.27px;font-size:9.3px;color:#47663a;font-weight:normal;transform:translateX(-50%) scaleX(0.94);-webkit-text-stroke:0.2px #47663a;">1 / 20</span>
<div class="a" style="left:312px;top:545.7px;width:31.4px;height:25.4px;background:#c6f735"></div>
<div class="a" style="left:312.3px;top:572.8px;width:30.6px;height:13.9px;border-radius:3px;background:#94ea3c;border:1px solid #7ccf2d"></div><span class="t" style="left:327.6px;top:575.27px;font-size:9.3px;color:#47663a;font-weight:normal;transform:translateX(-50%) scaleX(0.94);-webkit-text-stroke:0.2px #47663a;">1 / 22</span>
<div class="a" style="left:344px;top:558.7px;width:31.2px;height:12.4px;border-radius:1px;background:#ffc0cb"></div>
<div class="a" style="left:344.3px;top:572.8px;width:30.6px;height:13.9px;border-radius:3px;background:#ffc0cb;border:1px solid #eaaab5"></div><span class="t" style="left:359.6px;top:575.27px;font-size:9.3px;color:#80707c;font-weight:normal;transform:translateX(-50%) scaleX(0.94);-webkit-text-stroke:0.2px #80707c;">0 / 19</span>
<div class="a" style="left:376px;top:558.7px;width:31.2px;height:12.4px;border-radius:1px;background:#ffc0cb"></div>
<div class="a" style="left:376.3px;top:572.8px;width:30.6px;height:13.9px;border-radius:3px;background:#ffc0cb;border:1px solid #eaaab5"></div><span class="t" style="left:391.6px;top:575.27px;font-size:9.3px;color:#80707c;font-weight:normal;transform:translateX(-50%) scaleX(0.94);-webkit-text-stroke:0.2px #80707c;">0 / 20</span>
<div class="a" style="left:408px;top:558.7px;width:31.2px;height:12.4px;border-radius:1px;background:#ffc0cb"></div>
<div class="a" style="left:408.3px;top:572.8px;width:30.6px;height:13.9px;border-radius:3px;background:#ffc0cb;border:1px solid #eaaab5"></div><span class="t" style="left:423.6px;top:575.27px;font-size:9.3px;color:#80707c;font-weight:normal;transform:translateX(-50%) scaleX(0.94);-webkit-text-stroke:0.2px #80707c;">0 / 20</span>
<div class="a" style="left:440px;top:558.7px;width:31.2px;height:12.4px;border-radius:1px;background:#ffc0cb"></div>
<div class="a" style="left:440.3px;top:572.8px;width:30.6px;height:13.9px;border-radius:3px;background:#ffc0cb;border:1px solid #eaaab5"></div><span class="t" style="left:455.6px;top:575.27px;font-size:9.3px;color:#80707c;font-weight:normal;transform:translateX(-50%) scaleX(0.94);-webkit-text-stroke:0.2px #80707c;">0 / 20</span>
<div class="a" style="left:472px;top:558.7px;width:31.2px;height:12.4px;border-radius:1px;background:#ffc0cb"></div>
<div class="a" style="left:472.3px;top:572.8px;width:30.6px;height:13.9px;border-radius:3px;background:#ffc0cb;border:1px solid #eaaab5"></div><span class="t" style="left:487.6px;top:575.27px;font-size:9.3px;color:#80707c;font-weight:normal;transform:translateX(-50%) scaleX(0.94);-webkit-text-stroke:0.2px #80707c;">0 / 20</span>
<span class="t" style="left:344.8px;top:546.91px;font-size:9.8px;color:#62657f;font-weight:normal;transform:scaleX(0.89);transform-origin:0 50%;">Martynas Zajanciauskus</span>
<div class="a" style="left:186px;top:586.8px;width:94px;height:1px;background:#8b8eb0"></div>
<span class="t" style="left:186.7px;top:588.71px;font-size:9.8px;color:#4b4f82;font-weight:bold;transform:scaleX(0.87);transform-origin:0 50%;">7 Studio Apartment</span>
<div class="a" style="left:280px;top:587.6px;width:31.2px;height:14.8px;border-radius:1px;background:#ffff33"></div>
<div class="a" style="left:280.3px;top:603.9px;width:30.6px;height:13.9px;border-radius:3px;background:#94ea3c;border:1px solid #7ccf2d"></div><span class="t" style="left:295.6px;top:606.37px;font-size:9.3px;color:#47663a;font-weight:normal;transform:translateX(-50%) scaleX(0.94);-webkit-text-stroke:0.2px #47663a;">1 / 21</span>
<div class="a" style="left:312px;top:587.6px;width:31.2px;height:14.8px;border-radius:1px;background:#c6f735"></div>
<div class="a" style="left:312.3px;top:603.9px;width:30.6px;height:13.9px;border-radius:3px;background:#94ea3c;border:1px solid #7ccf2d"></div><span class="t" style="left:327.6px;top:606.37px;font-size:9.3px;color:#47663a;font-weight:normal;transform:translateX(-50%) scaleX(0.94);-webkit-text-stroke:0.2px #47663a;">1 / 22</span>
<div class="a" style="left:344px;top:587.6px;width:31.2px;height:14.8px;border-radius:1px;background:#ffff33"></div>
<div class="a" style="left:344.3px;top:603.9px;width:30.6px;height:13.9px;border-radius:3px;background:#94ea3c;border:1px solid #7ccf2d"></div><span class="t" style="left:359.6px;top:606.37px;font-size:9.3px;color:#47663a;font-weight:normal;transform:translateX(-50%) scaleX(0.94);-webkit-text-stroke:0.2px #47663a;">1 / 19</span>
<div class="a" style="left:376px;top:587.6px;width:31.2px;height:14.8px;border-radius:1px;background:#ffff33"></div>
<div class="a" style="left:376.3px;top:603.9px;width:30.6px;height:13.9px;border-radius:3px;background:#94ea3c;border:1px solid #7ccf2d"></div><span class="t" style="left:391.6px;top:606.37px;font-size:9.3px;color:#47663a;font-weight:normal;transform:translateX(-50%) scaleX(0.94);-webkit-text-stroke:0.2px #47663a;">1 / 20</span>
<div class="a" style="left:408px;top:587.6px;width:31.2px;height:14.8px;border-radius:1px;background:#ffff33"></div>
<div class="a" style="left:408.3px;top:603.9px;width:30.6px;height:13.9px;border-radius:3px;background:#94ea3c;border:1px solid #7ccf2d"></div><span class="t" style="left:423.6px;top:606.37px;font-size:9.3px;color:#47663a;font-weight:normal;transform:translateX(-50%) scaleX(0.94);-webkit-text-stroke:0.2px #47663a;">1 / 20</span>
<div class="a" style="left:440px;top:587.6px;width:31.2px;height:14.8px;border-radius:1px;background:#ffff33"></div>
<div class="a" style="left:440.3px;top:603.9px;width:30.6px;height:13.9px;border-radius:3px;background:#94ea3c;border:1px solid #7ccf2d"></div><span class="t" style="left:455.6px;top:606.37px;font-size:9.3px;color:#47663a;font-weight:normal;transform:translateX(-50%) scaleX(0.94);-webkit-text-stroke:0.2px #47663a;">1 / 20</span>
<div class="a" style="left:472px;top:587.6px;width:31.2px;height:14.8px;border-radius:1px;background:#ffff33"></div>
<div class="a" style="left:472.3px;top:603.9px;width:30.6px;height:13.9px;border-radius:3px;background:#94ea3c;border:1px solid #7ccf2d"></div><span class="t" style="left:487.6px;top:606.37px;font-size:9.3px;color:#47663a;font-weight:normal;transform:translateX(-50%) scaleX(0.94);-webkit-text-stroke:0.2px #47663a;">1 / 20</span>
<div class="a" style="left:186px;top:618.1px;width:94px;height:1px;background:#8b8eb0"></div>
<span class="t" style="left:186.7px;top:620.01px;font-size:9.8px;color:#4b4f82;font-weight:bold;transform:scaleX(0.87);transform-origin:0 50%;">4 Double or Twin Ro<span style="opacity:.45">...</span></span>
<div class="a" style="left:280px;top:631.9px;width:31.2px;height:12.4px;border-radius:1px;background:#ffc0cb"></div>
<div class="a" style="left:280.3px;top:646.0px;width:30.6px;height:13.9px;border-radius:3px;background:#ffc0cb;border:1px solid #eaaab5"></div><span class="t" style="left:295.6px;top:648.47px;font-size:9.3px;color:#80707c;font-weight:normal;transform:translateX(-50%) scaleX(0.94);-webkit-text-stroke:0.2px #80707c;">0 / 22</span>
<div class="a" style="left:312px;top:631.9px;width:31.2px;height:12.4px;border-radius:1px;background:#ffc0cb"></div>
<div class="a" style="left:312.3px;top:646.0px;width:30.6px;height:13.9px;border-radius:3px;background:#ffc0cb;border:1px solid #eaaab5"></div><span class="t" style="left:327.6px;top:648.47px;font-size:9.3px;color:#80707c;font-weight:normal;transform:translateX(-50%) scaleX(0.94);-webkit-text-stroke:0.2px #80707c;">0 / 22</span>
<div class="a" style="left:344px;top:631.9px;width:31.2px;height:12.4px;border-radius:1px;background:#ffc0cb"></div>
<div class="a" style="left:344.3px;top:646.0px;width:30.6px;height:13.9px;border-radius:3px;background:#ffc0cb;border:1px solid #eaaab5"></div><span class="t" style="left:359.6px;top:648.47px;font-size:9.3px;color:#80707c;font-weight:normal;transform:translateX(-50%) scaleX(0.94);-webkit-text-stroke:0.2px #80707c;">0 / 19</span>
<div class="a" style="left:376px;top:631.9px;width:31.2px;height:12.4px;border-radius:1px;background:#ffc0cb"></div>
<div class="a" style="left:376.3px;top:646.0px;width:30.6px;height:13.9px;border-radius:3px;background:#ffc0cb;border:1px solid #eaaab5"></div><span class="t" style="left:391.6px;top:648.47px;font-size:9.3px;color:#80707c;font-weight:normal;transform:translateX(-50%) scaleX(0.94);-webkit-text-stroke:0.2px #80707c;">0 / 20</span>
<div class="a" style="left:408px;top:631.9px;width:31.2px;height:12.4px;border-radius:1px;background:#ffc0cb"></div>
<div class="a" style="left:408.3px;top:646.0px;width:30.6px;height:13.9px;border-radius:3px;background:#ffc0cb;border:1px solid #eaaab5"></div><span class="t" style="left:423.6px;top:648.47px;font-size:9.3px;color:#80707c;font-weight:normal;transform:translateX(-50%) scaleX(0.94);-webkit-text-stroke:0.2px #80707c;">0 / 20</span>
<div class="a" style="left:440px;top:631.9px;width:31.2px;height:12.4px;border-radius:1px;background:#ffc0cb"></div>
<div class="a" style="left:440.3px;top:646.0px;width:30.6px;height:13.9px;border-radius:3px;background:#ffc0cb;border:1px solid #eaaab5"></div><span class="t" style="left:455.6px;top:648.47px;font-size:9.3px;color:#80707c;font-weight:normal;transform:translateX(-50%) scaleX(0.94);-webkit-text-stroke:0.2px #80707c;">0 / 20</span>
<div class="a" style="left:472px;top:631.9px;width:31.2px;height:12.4px;border-radius:1px;background:#ffc0cb"></div>
<div class="a" style="left:472.3px;top:646.0px;width:30.6px;height:13.9px;border-radius:3px;background:#ffc0cb;border:1px solid #eaaab5"></div><span class="t" style="left:487.6px;top:648.47px;font-size:9.3px;color:#80707c;font-weight:normal;transform:translateX(-50%) scaleX(0.94);-webkit-text-stroke:0.2px #80707c;">0 / 20</span>
<span class="t" style="left:280.8px;top:620.11px;font-size:9.8px;color:#62657f;font-weight:normal;transform:scaleX(0.89);transform-origin:0 50%;">Andrej Sincenko</span>
</div></div>
<span class="t" style="left:601px;top:77.47px;font-size:9.3px;color:#6d6f81;font-weight:normal;transform:scaleX(0.87);transform-origin:0 50%;">with sauna</span>
<span class="t" style="left:601px;top:90.28px;font-size:7.4px;color:#6d6f81;font-weight:normal;transform:scaleX(0.89);transform-origin:0 50%;">2021-02-25 | 2021-02-26</span>
<div class="a" style="left:754px;top:72px;width:32px;height:9.3px;border-radius:5px;background:#ffc94d"></div>
<div class="hl" style="left:515px;top:104px;width:323px;background:#f8f9fb"></div>
<span class="t" style="left:601px;top:113.17px;font-size:9.3px;color:#6c63d8;font-weight:normal;transform:scaleX(0.87);transform-origin:0 50%;">Jurijus Gribanovas</span>
<div class="a" style="left:674.6px;top:114px;width:11.4px;height:7.8px;background:linear-gradient(to bottom,#fdb913 0 33%,#006a44 33% 66%,#c1272d 66% 100%)"></div>
<div class="a" style="left:601px;top:124.2px;width:18.6px;height:11.6px;border-radius:6px;background:#1dc9b7"></div>
<span class="t" style="left:610.3px;top:126.61px;font-size:6.4px;color:#e9fffb;font-weight:normal;transform:translateX(-50%) scaleX(0.95);">x3</span>
<span class="t" style="left:601px;top:138.47px;font-size:9.3px;color:#5f6176;font-weight:normal;transform:scaleX(0.87);transform-origin:0 50%;">6 Double or Twin Room</span>
<span class="t" style="left:601px;top:151.48px;font-size:7.4px;color:#6d6f81;font-weight:normal;transform:scaleX(0.89);transform-origin:0 50%;">2021-02-25 | 2021-02-26</span>
<span class="t" style="left:601px;top:163.67px;font-size:6.8px;color:#6d6f81;font-weight:normal;transform:scaleX(0.945);transform-origin:0 50%;">ATSIUNTE PAVEDIMO FOTO</span>
<span class="t" style="left:601px;top:176.27px;font-size:6.8px;color:#6d6f81;font-weight:normal;transform:scaleX(0.945);transform-origin:0 50%;">SUTIKRINTI BANKIA</span>
<svg class="a" style="left:536px;top:143.5px" width="5" height="8" viewBox="0 0 5 8" fill="none" stroke="#f0934a" stroke-width=".7"><path d="M1.2 0.5 H3.8 L4.5 3 H0.5 Z"/><path d="M1.6 4.2 H3.4 V6 L3 7.4 H2 L1.6 6 Z"/></svg>
<span class="t" style="left:541.2px;top:144.6px;font-size:6.5px;color:#f0954e;letter-spacing:-0.4px;font-weight:bold">nobeds</span>
<div class="a" style="left:543px;top:152.2px;width:10px;height:0.7px;background:#f3b37f"></div>
<div class="a" style="left:750.6px;top:141.4px;width:39.6px;height:12.4px;border-radius:6.2px;background:#ffb822"></div>
<span class="t" style="left:756.6px;top:144.86px;font-size:6.5px;color:#4a4230;font-weight:normal;transform:scaleX(0.98);transform-origin:0 50%;">PaidCC</span>
<svg class="a" style="left:780.4px;top:145.8px" width="4" height="2.6"><path d="M0 0 H4 L2 2.6 Z" fill="#3d3626"/></svg>
<div class="hl" style="left:515px;top:189px;width:323px;background:#f9fafc"></div>
<svg class="a" style="left:540.5px;top:212px" width="4" height="6" viewBox="0 0 4 6" fill="none" stroke="#d5d8e6" stroke-width="1"><path d="M3.2 0.6 L0.8 3 L3.2 5.4"/></svg>
<svg class="a" style="left:588.6px;top:212px" width="4" height="6" viewBox="0 0 4 6" fill="none" stroke="#dfe2ee" stroke-width="1"><path d="M0.8 0.6 L3.2 3 L0.8 5.4"/></svg>
<div class="a" style="left:558px;top:206px;width:18px;height:18.2px;border-radius:2px;background:#5d78ff"></div>
<span class="t" style="left:567px;top:210.64px;font-size:8.6px;color:#fff;font-weight:normal;transform:translateX(-50%) scaleX(0.9);-webkit-text-stroke:0.2px #fff;">1</span>
<div class="a" style="left:708.2px;top:206px;width:36.6px;height:18.2px;border-radius:2px;background:#f0f3ff"></div>
<span class="t" style="left:716.8px;top:210.64px;font-size:8.8px;color:#93a2dd;font-weight:normal;transform:scaleX(0.87);transform-origin:0 50%;">100</span>
<svg class="a" style="left:733.4px;top:213.4px" width="5" height="3.4" viewBox="0 0 5 3.4" fill="none" stroke="#93a2dd" stroke-width=".9"><path d="M0.5 0.5 L2.5 2.6 L4.5 0.5"/></svg>
<span class="t" style="left:752px;top:210.37px;font-size:9.5px;color:#6c6e86;font-weight:normal;transform:scaleX(0.91);transform-origin:0 50%;">Showing 1 - 6 of 6</span>
<span class="t" style="left:530px;top:264.56px;font-size:11.2px;color:#48465b;font-weight:normal;transform:scaleX(0.885);transform-origin:0 50%;">Week Stats</span>
<div class="a" style="left:807.6px;top:269.4px;width:2.2px;height:2.2px;border-radius:50%;background:#7389f4"></div>
<div class="a" style="left:811.4px;top:269.4px;width:2.2px;height:2.2px;border-radius:50%;background:#7389f4"></div>
<div class="a" style="left:815.2px;top:269.4px;width:2.2px;height:2.2px;border-radius:50%;background:#7389f4"></div>
<div class="hl" style="left:515px;top:290px;width:323px"></div>
<span class="t" style="left:530px;top:318.95px;font-size:9.9px;color:#5f6176;font-weight:normal;transform:scaleX(0.89);transform-origin:0 50%;">Bookings</span>
<span class="t" style="right:378px;top:319.43px;font-size:9.0px;color:#53536a;font-weight:bold;transform:scaleX(0.9);transform-origin:100% 50%;">198</span>
<span class="t" style="left:530px;top:368.25px;font-size:9.9px;color:#5f6176;font-weight:normal;transform:scaleX(0.89);transform-origin:0 50%;">Sales</span>
<span class="t" style="right:378px;top:368.73px;font-size:9.0px;color:#53536a;font-weight:bold;transform:scaleX(0.9);transform-origin:100% 50%;">1882</span>
<span class="t" style="left:530px;top:417.55px;font-size:9.9px;color:#5f6176;font-weight:normal;transform:scaleX(0.89);transform-origin:0 50%;">Paid</span>
<span class="t" style="right:378px;top:418.03px;font-size:9.0px;color:#53536a;font-weight:bold;transform:scaleX(0.9);transform-origin:100% 50%;">936</span>
<span class="t" style="left:530px;top:466.75px;font-size:9.9px;color:#5f6176;font-weight:normal;transform:scaleX(0.89);transform-origin:0 50%;">Expenses</span>
<span class="t" style="right:378px;top:467.23px;font-size:9.0px;color:#53536a;font-weight:bold;transform:scaleX(0.9);transform-origin:100% 50%;">29</span>
<svg class="a" style="left:0;top:0" width="1200" height="660" viewBox="0 0 1200 660" fill="none" stroke-width="1.3" stroke-linecap="round" stroke-linejoin="round"><path d="M751.2 332.5 C752.5 329 754 324.8 755.9 324.6 C759 324.2 762.5 324.6 765.7 323.9 C770 322.6 776 317 781.5 314" stroke="#4aa3ea"/><path d="M746 382.9 C747.5 380.5 748.5 377.6 750 377 C752 376.4 753 376.6 755.1 375.8 C758 374.4 761 370.6 764.6 369.1 C768.5 367.6 772.5 366.4 776.4 364.8" stroke="#f7b944"/><path d="M751.2 430.9 C752.4 428.4 753.2 425.4 755.1 424.3 C758.6 422.4 763 422.8 765.7 421.1 C768.4 419.4 768.6 415 770.9 414 C774 412.8 778 414.2 781.5 414" stroke="#37c09f"/><path d="M755.9 481.7 C758.6 476.6 762.4 471.6 766.1 468.3" stroke="#e6457c"/></svg>
<span class="t" style="left:530px;top:525.26px;font-size:11.2px;color:#48465b;font-weight:normal;transform:scaleX(0.885);transform-origin:0 50%;">Top countries</span>
<div class="hl" style="left:515px;top:550px;width:323px"></div>
<svg class="a" style="left:0;top:0" width="1200" height="660" viewBox="0 0 1200 660"><polygon points="530.3,581.2 533.5,577.3 539.1,575.7 551.8,576.5 567.7,575.7 569.3,571.7 577.2,569.6 586.8,570.1 591.5,567.4 602.7,566.4 609.0,567.7 615.4,570.9 621.7,574.9 624.1,580.4 621.7,584.4 615.4,585.2 613.8,582.0 609.0,578.8 602.7,580.4 604.3,583.6 599.5,582.8 594.7,582.3 592.8,584.9 596.3,587.6 602.7,588.4 606.6,586.0 613.8,586.8 621.7,590.8 626.2,594.0 621.7,595.5 615.4,594.7 613.0,597.9 609.0,600.3 606.6,603.5 604.3,607.5 603.9,610.3 601.9,609.1 599.5,606.7 594.7,607.1 590.7,609.8 590.0,613.5 593.1,615.4 597.9,614.1 599.5,616.2 596.0,618.6 597.9,621.5 602.7,625.0 606.6,626.2 605.9,627.8 601.9,626.9 596.3,623.4 591.5,621.0 585.2,617.8 580.4,613.8 576.4,609.1 572.5,605.9 569.3,600.3 567.7,595.5 565.3,591.2 561.7,589.2 558.2,587.6 551.8,586.0 545.4,585.2 540.7,586.8 535.1,587.6 539.1,584.4 533.5,583.6" fill="#ededed"/><polygon points="606.6,566.4 618.6,565.5 634.5,565.5 650.4,566.1 658.6,567.1 653.5,570.1 647.2,574.1 642.4,578.8 636.9,582.8 633.2,584.9 629.7,582.8 626.5,578.8 624.1,574.9 621.7,570.9 615.4,568.5" fill="#ededed"/><polygon points="540.7,615.7 543.8,616.7 543.5,618.3 541.0,617.3" fill="#ededed"/><polygon points="599.5,617.3 606.6,616.7 613.8,618.3 609.0,618.9 602.7,618.3" fill="#ededed"/><polygon points="602.7,629.7 606.6,625.7 611.4,623.7 618.6,625.0 624.9,628.1 631.3,631.3 637.6,635.3 640.5,638.0 638.4,643.2 634.5,648.0 632.1,652.0 628.1,656.7 624.9,660.7 624.1,666.3 612.2,666.3 611.4,659.9 609.0,653.6 607.1,647.2 603.9,640.9 602.4,635.3" fill="#ededed"/><polygon points="648.5,579.6 652.8,578.8 656.7,580.1 655.1,582.0 650.4,582.3" fill="#cfe6e6"/><polygon points="683.8,576.5 689.4,574.1 694.2,575.3 696.6,577.3 692.6,578.8 691.8,582.0 692.6,585.2 691.8,589.2 685.4,587.6 680.7,589.2 677.5,590.8 675.1,588.4 677.5,583.6 681.5,584.4 683.8,581.2 682.3,578.8" fill="#ededed"/><polygon points="660.8,598.7 663.2,595.5 664.8,592.8 669.5,590.9 675.1,589.2 680.7,590.3 681.5,593.2 699.0,593.2 702.9,597.9 706.1,597.6 707.7,601.1 701.3,602.7 694.2,601.1 690.2,603.5 683.8,602.7 679.1,600.3 675.9,602.7 671.9,598.7 668.7,601.1 666.4,603.5 661.3,603.0" fill="#ededed"/><polygon points="662.9,586.0 666.0,585.2 667.9,589.2 665.1,592.2 662.5,590.9" fill="#ededed"/><polygon points="660.0,587.8 661.9,587.6 661.9,590.3 660.0,590.3" fill="#ededed"/><polygon points="677.2,569.0 683.8,568.0 689.4,569.0 686.2,570.9 679.1,570.9" fill="#ededed"/><polygon points="704.5,567.7 709.3,567.4 708.5,569.0 704.8,569.0" fill="#ededed"/><polygon points="710.6,574.1 714.8,571.7 722.8,570.6 723.9,571.9 717.2,573.3 713.3,575.7" fill="#ededed"/><polygon points="741.9,568.5 749.0,568.0 753.0,570.1 746.6,570.6" fill="#ededed"/><polygon points="778.4,572.2 787.2,571.5 789.6,573.1 780.8,573.8" fill="#ededed"/><polygon points="692.6,578.8 696.6,577.3 707.7,578.8 712.5,575.3 723.6,576.5 726.8,574.1 739.5,571.9 749.0,570.9 758.6,571.9 768.1,574.1 779.2,574.9 793.5,575.3 803.1,576.0 812.6,576.8 819.0,578.2 820.9,579.8 816.6,582.0 810.2,583.0 803.9,585.2 800.2,583.6 797.0,585.5 798.6,588.4 795.5,591.2 793.9,587.6 792.3,584.6 785.9,586.0 782.7,589.2 784.3,593.2 782.7,597.3 779.6,594.7 776.1,592.5 771.3,591.6 764.9,590.6 761.7,593.2 755.4,592.4 749.0,593.2 742.7,592.4 736.3,590.8 730.0,589.0 723.6,589.0 718.8,590.8 712.5,591.6 707.7,593.2 706.4,597.3 702.9,597.9 699.7,594.7 696.9,593.8 694.2,592.5 691.8,589.2 692.6,585.2 691.8,582.0" fill="#add8e6"/><polygon points="680.3,590.0 685.4,588.7 691.8,589.3 696.9,590.3 699.4,593.2 691.8,594.1 685.4,593.2 681.0,592.5" fill="#add8e6"/><polygon points="685.8,587.8 688.9,587.6 689.3,589.0 686.1,589.2" fill="#4a4a4a"/><polygon points="794.8,585.2 796.4,584.9 795.5,591.9 793.9,591.2" fill="#add8e6"/><polygon points="780.8,596.7 784.8,596.0 785.9,600.3 782.4,604.3 778.9,606.2 778.0,604.0 782.1,601.1" fill="#ededed"/><polygon points="656.5,608.3 659.2,603.5 664.8,601.4 669.5,602.4 679.1,603.5 688.6,605.9 688.9,608.3 696.9,608.7 700.5,616.2 703.7,621.8 709.3,623.7 706.1,628.4 701.7,634.5 700.5,640.9 698.2,647.2 694.2,653.6 691.8,659.9 690.2,666.3 680.7,666.3 679.4,656.7 676.7,648.8 675.9,640.9 674.6,634.5 671.9,629.4 664.8,629.7 659.2,627.8 655.5,622.6 654.3,617.0 654.9,612.2" fill="#ededed"/><polygon points="706.4,643.2 709.0,641.6 708.6,648.0 705.8,652.3 703.6,650.4 704.5,645.9" fill="#ededed"/><polygon points="688.6,608.3 695.9,608.4 697.5,615.1 688.9,615.1" fill="#808080"/><polygon points="691.8,601.4 701.7,602.4 707.7,601.4 712.5,602.7 715.6,607.5 718.5,612.2 716.0,617.3 712.5,623.4 706.4,625.0 701.7,618.6 698.2,609.1 696.2,605.6" fill="#ededed"/><polygon points="706.4,597.3 707.7,593.2 712.5,591.9 718.8,590.9 723.6,589.3 730.0,589.3 736.3,590.9 742.7,592.5 749.0,593.5 755.4,592.5 761.7,593.5 764.9,590.9 771.3,591.9 776.1,592.8 779.6,595.1 782.7,597.6 778.4,601.1 773.7,602.7 774.8,606.2 771.3,609.8 769.7,614.6 766.8,618.9 761.7,621.8 755.4,620.5 753.0,625.0 755.4,629.7 753.8,634.5 749.3,629.7 747.1,623.4 743.5,617.3 739.2,615.4 736.3,621.0 732.3,626.9 729.2,623.4 726.8,616.2 722.3,613.5 718.5,612.2 715.6,607.5 712.5,602.7 707.7,601.1" fill="#ededed"/><polygon points="773.2,602.7 775.7,602.4 775.4,606.7 773.5,606.2" fill="#ededed"/><polygon points="745.9,628.4 749.8,631.3 755.4,636.4 761.7,638.9 761.1,640.2 753.8,638.0 747.1,633.2" fill="#ededed"/><polygon points="755.7,631.0 761.7,629.4 765.7,632.1 763.3,636.4 757.8,636.1" fill="#ededed"/><polygon points="766.8,617.8 769.7,617.3 770.3,623.4 771.3,626.9 768.4,627.3 767.5,622.6" fill="#ededed"/><polygon points="769.7,631.6 773.2,631.0 773.8,636.4 770.7,636.9" fill="#ededed"/><polygon points="763.3,639.3 774.5,640.1 777.6,641.2 769.7,641.5" fill="#ededed"/><polygon points="778.0,632.9 787.2,634.2 795.1,636.9 799.9,640.9 793.5,640.1 785.6,637.7 778.9,635.3" fill="#ededed"/><polygon points="759.4,651.2 763.3,647.2 769.7,644.0 773.7,641.6 777.6,642.8 782.4,640.9 785.6,644.8 789.6,648.8 792.3,654.4 792.8,663.1 761.7,663.1 759.4,656.7" fill="#ededed"/><polygon points="801.5,648.0 803.9,649.1 803.1,650.7 800.9,649.8" fill="#ededed"/><polygon points="811.0,645.6 814.2,645.0 814.5,646.9 811.4,647.2" fill="#ededed"/></svg>
<div class="a" style="left:876px;top:74px;width:24px;height:7px;background:#fd6b9c"></div>
<div class="a" style="left:937.6px;top:74px;width:24.399999999999977px;height:7px;background:#f8c572"></div>
<div class="a" style="left:1018px;top:74px;width:24.40000000000009px;height:7px;background:#8c93e6"></div>
<div class="a" style="left:1095px;top:74px;width:23.799999999999955px;height:7px;background:#5fd0a6"></div>
<div class="a" style="left:928px;top:79.6px;width:1.6px;height:1.4px;background:#777"></div><div class="a" style="left:998px;top:79.6px;width:1.6px;height:1.4px;background:#777"></div>
<div class="a" style="left:978.2px;top:88.2px;width:23.6px;height:6px;background:#c6cbe1"></div>
<span class="t" style="left:1006.5px;top:86.85px;font-size:8.2px;color:#6b6b6b;font-weight:normal;transform:scaleX(0.92);transform-origin:0 50%;">HostelWorld</span>
<svg class="a" style="left:0;top:0" width="1200" height="660" viewBox="0 0 1200 660"><path d="M1012 172 L1012.00 102.00 A70 70 0 1 1 972.15 229.55 Z" fill="#fd397a" stroke="#fff" stroke-width="0.9" stroke-linejoin="round"/><path d="M1012 172 L972.15 229.55 A70 70 0 0 1 943.77 156.37 Z" fill="#f5a733" stroke="#fff" stroke-width="0.9" stroke-linejoin="round"/><path d="M1012 172 L943.77 156.37 A70 70 0 0 1 988.98 105.89 Z" fill="#4b62db" stroke="#fff" stroke-width="0.9" stroke-linejoin="round"/><path d="M1012 172 L988.98 105.89 A70 70 0 0 1 1000.57 102.94 Z" fill="#2dbd86" stroke="#fff" stroke-width="0.9" stroke-linejoin="round"/><path d="M1012 172 L1000.57 102.94 A70 70 0 0 1 1012.00 102.00 Z" fill="#c6cbe1" stroke="#fff" stroke-width="0.9" stroke-linejoin="round"/></svg>
<span class="t" style="left:866.7px;top:284.36px;font-size:11.2px;color:#48465b;font-weight:normal;transform:scaleX(0.885);transform-origin:0 50%;">Top rooms</span>
<div class="hl" style="left:851px;top:308.4px;width:323px"></div>
<div class="a" style="left:866px;top:325px;width:293px;height:7.8px;border-radius:1.5px;background:#ececef"></div>
<div class="a" style="left:866px;top:341px;width:293px;height:7.8px;border-radius:1.5px;background:#ececef"></div>
<span class="t" style="left:868px;top:326.24px;font-size:5.2px;color:#f8f8fa;font-weight:normal;transform:scaleX(0.95);transform-origin:0 50%;">Rooms - Standard Double Plus</span>
<span class="t" style="left:868px;top:342.24px;font-size:5.2px;color:#f8f8fa;font-weight:normal;transform:scaleX(0.95);transform-origin:0 50%;">Dorm - Standard Cloud Plus</span>
<span class="t" style="left:866.7px;top:398.36px;font-size:11.2px;color:#48465b;font-weight:normal;transform:scaleX(0.885);transform-origin:0 50%;">Latest Tasks</span>
<span class="t" style="left:1032.4px;top:399.58px;font-size:8.9px;color:#6c7ce4;font-weight:normal;transform:scaleX(0.9);transform-origin:0 50%;">My tasks</span>
<span class="t" style="left:1077px;top:399.58px;font-size:8.9px;color:#5f6176;font-weight:normal;transform:scaleX(0.9);transform-origin:0 50%;">Pending</span>
<span class="t" style="left:1119px;top:399.58px;font-size:8.9px;color:#5f6176;font-weight:normal;transform:scaleX(0.9);transform-origin:0 50%;">Completed</span>
<div class="hl" style="left:851px;top:422.4px;width:323px"></div>
<div class="a" style="left:1032.4px;top:421.4px;width:31.8px;height:1.6px;background:#9aa8f2"></div>
<div class="a" style="left:866px;top:463.0px;width:1.8px;height:17px;background:#e8457c;border-radius:1px"></div>
<span class="t" style="left:877.6px;top:460.97px;font-size:9.3px;color:#5f6176;font-weight:normal;transform:scaleX(0.963);transform-origin:0 50%;">Rakinamu spinteliu lagaminams pasideti</span>
<span class="t" style="left:877.6px;top:474.17px;font-size:7.6px;color:#6c6e84;font-weight:normal;transform:scaleX(0.93);transform-origin:0 50%;">2020-05-25 |</span>
<div class="a" style="left:1144.9px;top:467.0px;width:8.2px;height:8.2px;border-radius:50%;border:1px solid #a3a5b8;background:#fff"></div>
<div class="a" style="left:866px;top:507.1px;width:1.8px;height:17px;background:#e8457c;border-radius:1px"></div>
<span class="t" style="left:877.6px;top:505.02px;font-size:9.3px;color:#5f6176;font-weight:normal;transform:scaleX(0.963);transform-origin:0 50%;">Perziureti booking.com desineje filtrus kad visur papultume</span>
<span class="t" style="left:877.6px;top:518.22px;font-size:7.6px;color:#6c6e84;font-weight:normal;transform:scaleX(0.93);transform-origin:0 50%;">2020-10-12 |</span>
<div class="a" style="left:1144.9px;top:511.1px;width:8.2px;height:8.2px;border-radius:50%;border:1px solid #a3a5b8;background:#fff"></div>
<div class="a" style="left:866px;top:551.1px;width:1.8px;height:17px;background:#e8457c;border-radius:1px"></div>
<span class="t" style="left:877.6px;top:549.07px;font-size:9.3px;color:#5f6176;font-weight:normal;transform:scaleX(0.963);transform-origin:0 50%;">Pagalvoti apie butuku perfotografavima</span>
<span class="t" style="left:877.6px;top:562.27px;font-size:7.6px;color:#6c6e84;font-weight:normal;transform:scaleX(0.93);transform-origin:0 50%;">2020-10-12 |</span>
<div class="a" style="left:1144.9px;top:555.1px;width:8.2px;height:8.2px;border-radius:50%;border:1px solid #a3a5b8;background:#fff"></div>
<div class="a" style="left:866px;top:595.1px;width:1.8px;height:17px;background:#e8457c;border-radius:1px"></div>
<span class="t" style="left:877.6px;top:593.12px;font-size:9.3px;color:#5f6176;font-weight:normal;transform:scaleX(0.963);transform-origin:0 50%;">Kambariam sukelti nuotraukas i NOBEDS sistema</span>
<span class="t" style="left:877.6px;top:606.32px;font-size:7.6px;color:#6c6e84;font-weight:normal;transform:scaleX(0.93);transform-origin:0 50%;">2020-11-04 |</span>
<div class="a" style="left:1144.9px;top:599.1px;width:8.2px;height:8.2px;border-radius:50%;border:1px solid #a3a5b8;background:#fff"></div>
<div class="a" style="left:877.6px;top:635.6px;width:33.4px;height:19.8px;border-radius:2px;background:#ffb822"></div>
<span class="t" style="left:894.3px;top:641.98px;font-size:7.2px;color:#2c2a20;font-weight:normal;transform:translateX(-50%) scaleX(0.95);">More</span>
<div class="a" style="left:1152.5px;top:610.5px;width:24.5px;height:25px;border-radius:2px;background:#c7cffb"></div>
<svg class="a" style="left:1160.8px;top:618.5px" width="8" height="9" viewBox="0 0 8 9" fill="none" stroke="#fff" stroke-width="1.1"><path d="M4 8.4 V1 M1 3.8 L4 0.8 L7 3.8"/></svg>
<!--CONTENT-->
<div id="top"></div><div id="sub"></div>
<div class="a" style="left:922px;top:15px;width:94px;height:16px;border-radius:8px;background:#ffc439"></div>
<span class="t" style="left:939.8px;top:17.7px;font-size:9.3px;font-weight:bold;font-style:italic;letter-spacing:-0.35px;color:#253b80;-webkit-text-stroke:0.3px #253b80">Pay<span style="color:#179bd7;-webkit-text-stroke:0.3px #179bd7">Pal</span></span>
<span class="t" style="left:970px;top:19.86px;font-size:6.5px;color:#3d3520;font-weight:normal;transform:scaleX(0.96);transform-origin:0 50%;">Subscribe</span>
<div class="a" style="left:1029.6px;top:17.6px;width:1.15px;height:9.8px;background:linear-gradient(to bottom,#c3c5d3,#8e90a6 35%)"></div>
<div class="a" style="left:1032.1px;top:17.6px;width:1.15px;height:9.8px;background:linear-gradient(to bottom,#c3c5d3,#8e90a6 35%)"></div>
<div class="a" style="left:1034.6px;top:17.6px;width:1.15px;height:9.8px;background:linear-gradient(to bottom,#c3c5d3,#8e90a6 35%)"></div>
<svg class="a" style="left:1058px;top:15px" width="16" height="16" viewBox="0 0 16 16" fill="none" stroke="#c3c5d2" stroke-width="1.05"><circle cx="6.4" cy="6.4" r="4.7"/><path d="M9.9 9.9 L14 13.6" stroke-linecap="round"/></svg>
<svg class="a" style="left:1091.5px;top:18px" width="14.5" height="9" viewBox="0 0 29 18" preserveAspectRatio="none"><rect width="29" height="18" rx="2" fill="#1f2f78"/><path d="M0 0 L29 18 M29 0 L0 18" stroke="#fff" stroke-width="2.8"/><path d="M0 0 L29 18 M29 0 L0 18" stroke="#d4213a" stroke-width="1.1"/><path d="M14.5 0 V18 M0 9 H29" stroke="#fff" stroke-width="5"/><path d="M14.5 0 V18 M0 9 H29" stroke="#d4213a" stroke-width="3"/></svg>
<div class="a" style="left:1116.5px;top:7.5px;width:29px;height:29px;border-radius:50%;border:1px solid #f1f2f7;background:#fff"></div>
<svg class="a" style="left:1124.5px;top:18px" width="14" height="9" viewBox="0 0 14 9"><path fill="#4c65dd" fill-rule="evenodd" d="M7 0.3 C3.6 0.3 1.2 2.6 0.3 4.5 C1.2 6.4 3.6 8.7 7 8.7 C10.4 8.7 12.8 6.4 13.7 4.5 C12.8 2.6 10.4 0.3 7 0.3 Z M7 2 A2.5 2.5 0 1 0 7 7 A2.5 2.5 0 1 0 7 2 Z"/><circle cx="7" cy="4.5" r="1.2" fill="#4c65dd"/></svg>
<svg class="a" style="left:1158px;top:15px" width="13" height="14" viewBox="0 0 13 14" fill="none" stroke="#a6b3f4" stroke-width=".95"><rect x="1.4" y="5.6" width="10.2" height="7.6" rx="1.4"/><path d="M3.8 5.4 V3.6 C3.8 0.6 9.2 0.6 9.2 3.6 V5.4"/><path d="M6.5 8.4 V10.4" stroke-width="1.3"/></svg>
<svg class="a" style="left:177px;top:58.5px" width="11" height="10" viewBox="0 0 11 10" fill="none" stroke="#a5a8bd" stroke-width="1.05"><path d="M1.3 9 V4.6 C1.3 2.2 3.4 0.9 5.5 0.9 C7.6 0.9 9.7 2.2 9.7 4.6 V9 Z" stroke-linejoin="round"/><path d="M0.6 9 H10.4" stroke-width="1.4"/></svg>
<div class="a" style="left:191.5px;top:62.6px;width:1.8px;height:1.8px;border-radius:50%;background:#b9bccd"></div>
<div class="a" style="left:252.1px;top:62.6px;width:1.8px;height:1.8px;border-radius:50%;background:#b9bccd"></div>
<div class="a" style="left:336.70000000000005px;top:62.6px;width:1.8px;height:1.8px;border-radius:50%;background:#b9bccd"></div>
<div class="a" style="left:354.1px;top:62.6px;width:1.8px;height:1.8px;border-radius:50%;background:#b9bccd"></div>
<div class="a" style="left:371.1px;top:62.6px;width:1.8px;height:1.8px;border-radius:50%;background:#b9bccd"></div>
<span class="t" style="left:197.6px;top:59.67px;font-size:9.3px;color:#a5a8bd;font-weight:normal;transform:scaleX(0.87);transform-origin:0 50%;">DASHBOARD</span>
<span class="t" style="left:258.4px;top:59.67px;font-size:9.3px;color:#9fa5c0;font-weight:normal;transform:scaleX(0.875);transform-origin:0 50%;">NuomaKlaipeda.com</span>
<svg class="a" style="left:342px;top:59.5px" width="10" height="8.5" viewBox="0 0 10 8.5" fill="none" stroke="#a5a8bd" stroke-width=".8"><path d="M5 0.8 L9.4 7.8 L0.6 7.8 Z" stroke-linejoin="round"/><path d="M5 3.4 V5.6 M5 6.3 V6.9"/></svg>
<svg class="a" style="left:359.5px;top:59px" width="9" height="9" viewBox="0 0 9 9" fill="none" stroke="#a5a8bd" stroke-width=".8"><path d="M0.4 1 H8.6"/><rect x="1" y="1" width="7" height="4.6"/><path d="M2.6 3 H6.4 M4.5 5.6 V7 M2.6 8.4 L4.5 6.8 L6.4 8.4"/></svg>
<svg class="a" style="left:376.5px;top:59px" width="9.4" height="9.4" viewBox="0 0 10 10" fill="none" stroke="#a5a8bd" stroke-width=".8"><circle cx="5" cy="5" r="4.4"/><path d="M3.7 3.9 C3.7 2.4 6.3 2.4 6.3 3.9 C6.3 4.9 5 4.9 5 6"/><path d="M5 7 V7.7"/></svg>
<div class="btn" style="left:959px;width:21px"></div>
<div class="btn" style="left:984px;width:21px"></div>
<div class="btn" style="left:1008px;width:21px"></div>
<div class="btn" style="left:1032px;width:21px"></div>
<div class="btn" style="left:1058px;width:38px"></div>
<svg class="a" style="left:964.5px;top:58.5px" width="10" height="10" viewBox="0 0 10 10" fill="none" stroke="#8f9ff0" stroke-width=".9"><rect x="0.8" y="1.6" width="8.4" height="7.6" rx=".8"/><path d="M0.8 3.6 H9.2 M3 0.6 V2.2 M7 0.6 V2.2 M3.6 6.2 H6.4 M5 4.8 V7.6"/></svg>
<svg class="a" style="left:989px;top:58px" width="11" height="11" viewBox="0 0 11 11" fill="none" stroke="#8f9ff0" stroke-width=".9"><path d="M1.6 5.4 C1.6 3.8 3.2 3.2 5.2 3.2 C7.2 3.2 8.8 4.2 9 5.8 L10.2 6 L10.2 7.4 L9 7.8 C8.8 8.6 8.2 9 7.8 9.2 L7.8 10.4 L6.4 10.4 L6.2 9.6 L4.4 9.6 L4.2 10.4 L2.8 10.4 L2.8 9.2 C2 8.6 1.6 7 1.6 5.4 Z"/><circle cx="5.2" cy="1.6" r="1"/></svg>
<svg class="a" style="left:1013.5px;top:58.5px" width="10" height="10" viewBox="0 0 10 10" fill="none" stroke="#8f9ff0" stroke-width=".9"><path d="M0.8 1 H9.2 V6.8 H5.6 L3.6 8.8 V6.8 H0.8 Z" stroke-linejoin="round"/><path d="M2.6 3 H7.4 M2.6 4.8 H7.4"/></svg>
<svg class="a" style="left:1037.5px;top:58.5px" width="10" height="10" viewBox="0 0 10 10" fill="none" stroke="#8f9ff0" stroke-width=".9"><rect x="0.8" y="1" width="8.4" height="8.2" rx=".6"/><path d="M0.8 3.4 H9.2" stroke-width="1.6"/><path d="M5 3.6 V9 M2.6 6 V7.4"/></svg>
<svg class="a" style="left:1064.5px;top:58.5px" width="10" height="10" viewBox="0 0 10 10" fill="none" stroke="#8f9ff0" stroke-width=".9"><rect x="0.8" y="0.8" width="8.4" height="8.4" rx=".6"/><path d="M5 2.2 V5.8 M3.4 4.4 L5 6 L6.6 4.4 M0.8 6.8 H3 L3.8 7.8 H6.2 L7 6.8 H9.2"/></svg>
<svg class="a" style="left:1081px;top:61.6px" width="6" height="4" viewBox="0 0 6 4" fill="none" stroke="#8f9ff0" stroke-width="1"><path d="M0.7 0.6 L3 3 L5.3 0.6"/></svg>
<div class="a" style="left:1100px;top:53px;width:74px;height:21px;border-radius:2px;background:#5d78ff"></div>
<span class="t" style="left:1108.6px;top:59.6px;font-size:7.6px;color:#d9e0ff;letter-spacing:-0.25px">Today:<b style="color:#fff">Feb 26</b></span>
<svg class="a" style="left:1153.5px;top:58.5px" width="10" height="10" viewBox="0 0 10 10" fill="none" stroke="#fff" stroke-width=".95"><rect x="0.6" y="1.4" width="7.4" height="6.6" rx=".7"/><path d="M0.6 3.4 H8 M2.4 0.4 V2 M6.2 0.4 V2 M2 5 H3.2 M4 5 H5.2 M2 6.6 H3.2"/><circle cx="7.4" cy="7.4" r="2.1" fill="#5d78ff"/><path d="M6.6 7.4 L7.2 8 L8.3 6.9" stroke-width=".7"/></svg>
<!--BARS-->
<div id="side">
<div class="a" style="left:0;top:46px;width:162px;height:27.5px;background:#465dd3"></div>
<div class="a" style="left:0;top:624.6px;width:162px;height:36px;background:#485ed4"></div>
<svg class="a" style="left:15px;top:9px" width="15" height="21" viewBox="0 0 15 21"><path d="M3.0 2.0 Q3.4 1.2 4.2 1.2 L9.8 1.2 Q10.6 1.2 11 2.0 L13.4 7.4 Q13.7 8.6 12.4 8.6 L1.8 8.6 Q0.5 8.6 0.8 7.4 Z" fill="#fff"/><path d="M4.6 11.4 L8.8 11.4 Q10.2 11.4 10.2 12.8 L10.2 15.6 L8.9 19.3 L4.5 19.3 L3.2 15.6 L3.2 12.8 Q3.2 11.4 4.6 11.4 Z" fill="#fff"/></svg>
<span class="t" style="left:32px;top:11.1px;font-size:20px;color:#fff;transform:scaleX(0.885);transform-origin:0 50%;-webkit-text-stroke:0.5px #fff">nobeds</span>
<span class="t" style="left:33px;top:29.97px;font-size:6.1px;color:#fff;font-weight:bold;transform:scaleX(0.87);transform-origin:0 50%;letter-spacing:-0.1px;">CLOUD PLUS</span>
<div class="a" style="left:139px;top:17.2px;width:7.8px;height:1.7px;background:#8898ee"></div>
<div class="a" style="left:131px;top:22.3px;width:15.8px;height:1.7px;background:#8898ee"></div>
<div class="a" style="left:135.4px;top:27.1px;width:11.4px;height:1.7px;background:#8898ee"></div>
<svg class="a" style="left:18px;top:53px" width="13" height="13" viewBox="0 0 13 13" fill="none" stroke="#c9d1fa" stroke-width="1.1"><path d="M1.5 5.6 L6.5 1.2 L11.5 5.6 L11.5 11.6 L1.5 11.6 Z" stroke-linejoin="round"/><path d="M5.2 11.4 L5.2 8.4 L7.8 8.4 L7.8 11.4"/></svg>
<span class="t" style="left:37.5px;top:55.02px;font-size:9.4px;color:#fff;font-weight:normal;transform:scaleX(0.86);transform-origin:0 50%;-webkit-text-stroke:0.3px #fff;">DASHBOARD</span>
<svg class="a" style="left:137px;top:58px" width="8" height="5" viewBox="0 0 8 5" fill="none" stroke="#fff" stroke-width="1.3"><path d="M1 0.8 L4 3.8 L7 0.8"/></svg>
<div class="dot" style="top:85.5px"></div>
<span class="t" style="left:41px;top:82.44px;font-size:8.8px;color:#d0d7fb;font-weight:normal;transform:scaleX(0.91);transform-origin:0 50%;-webkit-text-stroke:0.22px #d0d7fb;">Today's available</span>
<div class="bd" style="top:81.0px;background:#fff"></div>
<span class="t" style="left:133px;width:11px;text-align:center;top:83.7px;font-size:5.5px;color:#5a5f80;font-weight:bold">6</span>
<div class="dot" style="top:110.5px"></div>
<span class="t" style="left:41px;top:107.44px;font-size:8.8px;color:#d0d7fb;font-weight:normal;transform:scaleX(0.91);transform-origin:0 50%;-webkit-text-stroke:0.22px #d0d7fb;">Tomorrow's available</span>
<div class="bd" style="top:106.0px;background:#fff"></div>
<span class="t" style="left:133px;width:11px;text-align:center;top:108.7px;font-size:5.5px;color:#5a5f80;font-weight:bold">6</span>
<div class="dot" style="top:135.5px"></div>
<span class="t" style="left:41px;top:132.44px;font-size:8.8px;color:#d0d7fb;font-weight:normal;transform:scaleX(0.91);transform-origin:0 50%;-webkit-text-stroke:0.22px #d0d7fb;">New booking</span>
<div class="bd" style="top:131.0px;background:#1dc9b7"></div>
<span class="t" style="left:133px;width:11px;text-align:center;top:133.7px;font-size:5.5px;color:#e6fffb;font-weight:bold">+</span>
<div class="dot" style="top:160.5px"></div>
<span class="t" style="left:41px;top:157.44px;font-size:8.8px;color:#d0d7fb;font-weight:normal;transform:scaleX(0.91);transform-origin:0 50%;-webkit-text-stroke:0.22px #d0d7fb;">New accounting</span>
<div class="bd" style="top:156.0px;background:#1dc9b7"></div>
<span class="t" style="left:133px;width:11px;text-align:center;top:158.7px;font-size:5.5px;color:#e6fffb;font-weight:bold">+</span>
<div class="dot" style="top:185.5px"></div>
<span class="t" style="left:41px;top:182.44px;font-size:8.8px;color:#d0d7fb;font-weight:normal;transform:scaleX(0.91);transform-origin:0 50%;-webkit-text-stroke:0.22px #d0d7fb;">New task</span>
<div class="bd" style="top:181.0px;background:#1dc9b7"></div>
<span class="t" style="left:133px;width:11px;text-align:center;top:183.7px;font-size:5.5px;color:#e6fffb;font-weight:bold">+</span>
<div class="dot" style="top:210.5px"></div>
<span class="t" style="left:41px;top:207.44px;font-size:8.8px;color:#d0d7fb;font-weight:normal;transform:scaleX(0.91);transform-origin:0 50%;-webkit-text-stroke:0.22px #d0d7fb;">Set quantity or price</span>
<div class="bd" style="top:206.0px;background:#ffb822"></div>
<span class="t" style="left:133px;width:11px;text-align:center;top:208.7px;font-size:5.5px;color:#5a4310;font-weight:bold">+</span>
<svg class="a" style="left:18px;top:232.3px" width="12" height="12" viewBox="0 0 12 12"><g fill="#8d9df0"><path d="M6 0.5 L11.5 3 L6 5.5 L0.5 3 Z"/><path d="M1.6 5.2 L0.5 5.8 L6 8.3 L11.5 5.8 L10.4 5.2 L6 7.2 Z" opacity=".8"/><path d="M1.6 8 L0.5 8.6 L6 11.1 L11.5 8.6 L10.4 8 L6 10 Z" opacity=".7"/></g></svg>
<span class="t" style="left:37.5px;top:233.32px;font-size:9.4px;color:#fff;font-weight:normal;transform:scaleX(0.865);transform-origin:0 50%;-webkit-text-stroke:0.3px #fff;">Bookings</span>
<svg class="a" style="left:138.5px;top:234.8px" width="5" height="7" viewBox="0 0 5 7" fill="none" stroke="#8a9aee" stroke-width="1.1"><path d="M0.8 0.6 L3.8 3.5 L0.8 6.4"/></svg>
<svg class="a" style="left:18px;top:259.8px" width="12" height="12" viewBox="0 0 12 12"><g fill="none" stroke="#8d9df0" stroke-width="1"><rect x="0.8" y="1.5" width="10.4" height="9.5" rx="1" opacity=".7"/><path d="M0.8 4 H11.2"/><path d="M4 6.2 H8 M4 8.4 H8" opacity=".8"/></g></svg>
<span class="t" style="left:37.5px;top:260.82px;font-size:9.4px;color:#fff;font-weight:normal;transform:scaleX(0.865);transform-origin:0 50%;-webkit-text-stroke:0.3px #fff;">Availability Calendar</span>
<svg class="a" style="left:138.5px;top:262.3px" width="5" height="7" viewBox="0 0 5 7" fill="none" stroke="#8a9aee" stroke-width="1.1"><path d="M0.8 0.6 L3.8 3.5 L0.8 6.4"/></svg>
<svg class="a" style="left:18px;top:287.3px" width="12" height="12" viewBox="0 0 12 12"><path fill="#8d9df0" d="M6 0.4 L7.7 4 L11.7 4.5 L8.8 7.2 L9.5 11.2 L6 9.3 L2.5 11.2 L3.2 7.2 L0.3 4.5 L4.3 4 Z"/></svg>
<span class="t" style="left:37.5px;top:288.32px;font-size:9.4px;color:#fff;font-weight:normal;transform:scaleX(0.865);transform-origin:0 50%;-webkit-text-stroke:0.3px #fff;">Reviews</span>
<svg class="a" style="left:138.5px;top:289.8px" width="5" height="7" viewBox="0 0 5 7" fill="none" stroke="#8a9aee" stroke-width="1.1"><path d="M0.8 0.6 L3.8 3.5 L0.8 6.4"/></svg>
<svg class="a" style="left:18px;top:314.8px" width="12" height="12" viewBox="0 0 12 12"><g fill="#8d9df0"><path d="M2.5 2.6 L8.5 0.6 L8.5 2.6 Z" opacity=".8"/><rect x="0.8" y="2.8" width="10.2" height="8.2" rx="1" opacity=".75"/><rect x="7.6" y="5.6" width="3.8" height="2.6" rx=".6" fill="#4c63d9"/></g></svg>
<span class="t" style="left:37.5px;top:315.82px;font-size:9.4px;color:#fff;font-weight:normal;transform:scaleX(0.865);transform-origin:0 50%;-webkit-text-stroke:0.3px #fff;">Accounting</span>
<svg class="a" style="left:138.5px;top:317.3px" width="5" height="7" viewBox="0 0 5 7" fill="none" stroke="#8a9aee" stroke-width="1.1"><path d="M0.8 0.6 L3.8 3.5 L0.8 6.4"/></svg>
<svg class="a" style="left:18px;top:342.3px" width="12" height="12" viewBox="0 0 12 12"><g fill="none" stroke="#8d9df0" stroke-width="1.1"><path d="M6.4 1 L11 1 L11 5.6 L5 11.4 L0.8 7 Z" stroke-linejoin="round"/><circle cx="8.7" cy="3.3" r=".7"/></g></svg>
<span class="t" style="left:37.5px;top:343.32px;font-size:9.4px;color:#fff;font-weight:normal;transform:scaleX(0.865);transform-origin:0 50%;-webkit-text-stroke:0.3px #fff;">Tasks</span>
<svg class="a" style="left:138.5px;top:344.8px" width="5" height="7" viewBox="0 0 5 7" fill="none" stroke="#8a9aee" stroke-width="1.1"><path d="M0.8 0.6 L3.8 3.5 L0.8 6.4"/></svg>
<svg class="a" style="left:18px;top:369.8px" width="12" height="12" viewBox="0 0 12 12"><g fill="#8d9df0"><rect x="0.8" y="7.5" width="2.2" height="3.8"/><rect x="4" y="6" width="2.2" height="5.3"/><rect x="7.2" y="4.6" width="2.2" height="6.7"/><rect x="10.2" y="3.4" width="1.6" height="7.9" opacity=".7"/><path d="M0.6 5.4 L4.4 3.6 L7.4 4 L11.6 0.6" fill="none" stroke="#8d9df0" stroke-width=".9"/></g></svg>
<span class="t" style="left:37.5px;top:370.82px;font-size:9.4px;color:#fff;font-weight:normal;transform:scaleX(0.865);transform-origin:0 50%;-webkit-text-stroke:0.3px #fff;">Charts</span>
<svg class="a" style="left:138.5px;top:372.3px" width="5" height="7" viewBox="0 0 5 7" fill="none" stroke="#8a9aee" stroke-width="1.1"><path d="M0.8 0.6 L3.8 3.5 L0.8 6.4"/></svg>
<svg class="a" style="left:18px;top:397.3px" width="12" height="12" viewBox="0 0 12 12"><g fill="none" stroke="#8d9df0" stroke-width="0.95" stroke-linejoin="round"><path d="M11.2 0.8 C8 0.7 4.9 2.7 3.3 6 L6 8.7 C9.3 7.1 11.3 4 11.2 0.8 Z"/><path d="M3.4 5.2 L1 5.6 L2.6 3.6 L4.4 3.6 M6.8 8.6 L6.4 11 L8.4 9.4 L8.4 7.6" opacity=".8"/><path d="M2.9 7.6 L1.4 10.6 L4.4 9.1" opacity=".8"/><circle cx="8.2" cy="3.8" r=".9"/></g></svg>
<span class="t" style="left:37.5px;top:398.32px;font-size:9.4px;color:#fff;font-weight:normal;transform:scaleX(0.865);transform-origin:0 50%;-webkit-text-stroke:0.3px #fff;">Your features</span>
<svg class="a" style="left:138.5px;top:399.8px" width="5" height="7" viewBox="0 0 5 7" fill="none" stroke="#8a9aee" stroke-width="1.1"><path d="M0.8 0.6 L3.8 3.5 L0.8 6.4"/></svg>
<svg class="a" style="left:18px;top:424.8px" width="12" height="12" viewBox="0 0 12 12"><g fill="none" stroke="#8d9df0" stroke-width="1"><path d="M2 5 C2 3.2 4 2.6 6 2.6 C8.4 2.6 10.2 3.8 10.4 5.6 L11.4 5.8 L11.4 7.8 L10.2 8.2 C9.8 9.2 9.2 9.6 8.6 10 L8.6 11.2 L7 11.2 L6.8 10.4 L5 10.4 L4.8 11.2 L3.2 11.2 L3.2 9.8 C2.2 9 2 7 2 5 Z"/><path d="M4.6 2.4 C4.6 0.4 7.4 0.4 7.4 2.4"/></g></svg>
<span class="t" style="left:37.5px;top:425.82px;font-size:9.4px;color:#fff;font-weight:normal;transform:scaleX(0.865);transform-origin:0 50%;-webkit-text-stroke:0.3px #fff;">Earn money</span>
<svg class="a" style="left:138.5px;top:427.3px" width="5" height="7" viewBox="0 0 5 7" fill="none" stroke="#8a9aee" stroke-width="1.1"><path d="M0.8 0.6 L3.8 3.5 L0.8 6.4"/></svg>
<svg class="a" style="left:18px;top:452.3px" width="12" height="12" viewBox="0 0 12 12"><g fill="none" stroke="#8d9df0" stroke-width="0.95" opacity=".85"><path d="M6 1.4 C4.2 1.4 3.5 3 3.5 4.6 L3.5 7.4 L2.4 9.3 L9.6 9.3 L8.5 7.4 L8.5 4.6 C8.5 3 7.8 1.4 6 1.4 Z" stroke-linejoin="round"/><path d="M5 10.6 C5.3 11.3 6.7 11.3 7 10.6 M6 0.4 V1.4"/></g></svg>
<span class="t" style="left:37.5px;top:453.32px;font-size:9.4px;color:#fff;font-weight:normal;transform:scaleX(0.865);transform-origin:0 50%;-webkit-text-stroke:0.3px #fff;">Competition</span>
<svg class="a" style="left:138.5px;top:454.8px" width="5" height="7" viewBox="0 0 5 7" fill="none" stroke="#8a9aee" stroke-width="1.1"><path d="M0.8 0.6 L3.8 3.5 L0.8 6.4"/></svg>
<svg class="a" style="left:18px;top:479.8px" width="12" height="12" viewBox="0 0 12 12"><path fill="#8d9df0" fill-rule="evenodd" d="M5 0.4 H7 L7.4 2 L8.6 2.6 L10 1.8 L11.2 3.2 L10.4 4.6 L10.8 5.4 L12 5.6 V7.4 L10.6 7.8 L10 9 L10.8 10.4 L9.4 11.4 L8.2 10.6 L7.2 11 L7 12 H5 L4.6 10.8 L3.6 10.4 L2.4 11.2 L1 10 L1.8 8.6 L1.4 7.6 L0 7.4 V5.4 L1.4 5.2 L1.9 4.2 L1 2.8 L2.4 1.6 L3.6 2.4 L4.6 2 Z M6 4.2 A2 2 0 1 0 6 8.2 A2 2 0 1 0 6 4.2 Z"/></svg>
<span class="t" style="left:37.5px;top:480.82px;font-size:9.4px;color:#fff;font-weight:normal;transform:scaleX(0.865);transform-origin:0 50%;-webkit-text-stroke:0.3px #fff;">Settings</span>
<svg class="a" style="left:138.5px;top:482.3px" width="5" height="7" viewBox="0 0 5 7" fill="none" stroke="#8a9aee" stroke-width="1.1"><path d="M0.8 0.6 L3.8 3.5 L0.8 6.4"/></svg>
<svg class="a" style="left:18px;top:507.29999999999995px" width="12" height="12" viewBox="0 0 12 12"><g fill="#8d9df0" opacity=".62"><path d="M0.6 2.6 L4 1.4 L4 9.8 L0.6 11 Z"/><path d="M4.4 1.4 L7.8 2.6 L7.8 11 L4.4 9.8 Z" opacity=".7"/><path d="M8.2 2.6 L11.6 1.4 L11.6 9.8 L8.2 11 Z"/></g><circle cx="6" cy="5.4" r="2" fill="none" stroke="#8d9df0" stroke-width=".8" opacity=".8"/></svg>
<span class="t" style="left:37.5px;top:508.32px;font-size:9.4px;color:#fff;font-weight:normal;transform:scaleX(0.865);transform-origin:0 50%;-webkit-text-stroke:0.3px #fff;">Log</span>
<svg class="a" style="left:138.5px;top:509.79999999999995px" width="5" height="7" viewBox="0 0 5 7" fill="none" stroke="#8a9aee" stroke-width="1.1"><path d="M0.8 0.6 L3.8 3.5 L0.8 6.4"/></svg>
<svg class="a" style="left:18px;top:534.8px" width="12" height="12" viewBox="0 0 12 12"><g fill="none" stroke="#8d9df0" stroke-width=".95" opacity=".85"><circle cx="6" cy="6" r="5.2"/><path d="M6 3 V7" stroke-width="1.2"/><circle cx="6" cy="8.8" r=".4" fill="#8d9df0"/></g></svg>
<span class="t" style="left:37.5px;top:535.82px;font-size:9.4px;color:#fff;font-weight:normal;transform:scaleX(0.865);transform-origin:0 50%;-webkit-text-stroke:0.3px #fff;">Admin</span>
<svg class="a" style="left:138.5px;top:537.3px" width="5" height="7" viewBox="0 0 5 7" fill="none" stroke="#8a9aee" stroke-width="1.1"><path d="M0.8 0.6 L3.8 3.5 L0.8 6.4"/></svg>
<div class="a" style="left:120px;top:452.8px;width:11px;height:11px;border-radius:50%;background:#fff"></div>
<span class="t" style="left:120px;width:11px;text-align:center;top:455.4px;font-size:5.8px;color:#e9a820;font-weight:bold">!</span>
<svg class="a" style="left:47px;top:638px" width="12" height="9" viewBox="0 0 12 9"><path fill="#8d9df0" fill-rule="evenodd" d="M6 0.5 C3 0.5 1 2.8 0.3 4.5 C1 6.2 3 8.5 6 8.5 C9 8.5 11 6.2 11.7 4.5 C11 2.8 9 0.5 6 0.5 Z M6 2.4 A2.1 2.1 0 1 0 6 6.6 A2.1 2.1 0 1 0 6 2.4 Z"/><circle cx="6" cy="4.5" r="1" fill="#8d9df0"/></svg>
<svg class="a" style="left:75px;top:636.5px" width="12" height="12" viewBox="0 0 12 12" fill="none" stroke="#8d9df0" stroke-width="0.9" opacity=".8"><circle cx="6" cy="6" r="5.3"/><path d="M4.4 4.6 C4.4 2.8 7.6 2.8 7.6 4.6 C7.6 5.8 6 5.8 6 7.2"/><circle cx="6" cy="8.8" r=".35" fill="#8d9df0"/></svg>
<svg class="a" style="left:103px;top:636px" width="13" height="13" viewBox="0 0 13 13" fill="none" stroke="#8d9df0" stroke-width="0.9" opacity=".85"><path d="M2 6 C2 4.2 4 3.6 6.4 3.6 C8.8 3.6 10.6 4.8 10.8 6.6 L12 6.8 L12 8.6 L10.8 9 C10.4 10 9.8 10.4 9.2 10.8 L9.2 12.2 L7.6 12.2 L7.4 11.4 L5.4 11.4 L5.2 12.2 L3.6 12.2 L3.6 10.8 C2.4 10 2 8 2 6 Z"/><circle cx="6.4" cy="1.8" r="1.2"/></svg>
<!--SIDE-->
</div>
<div id="sb"><div class="a" style="left:1.4px;top:221.6px;width:7.6px;height:222px;background:#c1c1c1"></div><svg class="a" style="left:2px;top:3px" width="6" height="4"><path d="M0 4L3 0L6 4Z" fill="#505050"/></svg><svg class="a" style="left:2px;top:652px" width="6" height="4"><path d="M0 0L3 4L6 0Z" fill="#505050"/></svg></div>
</body></html>
